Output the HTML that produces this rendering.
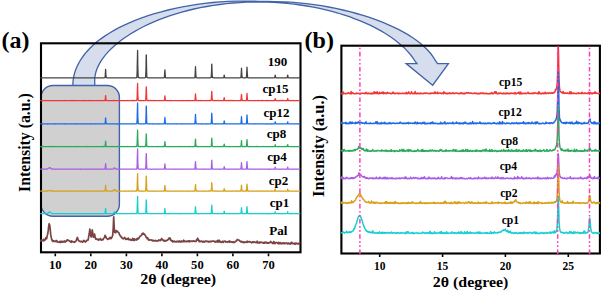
<!DOCTYPE html><html><head><meta charset="utf-8"><style>html,body{margin:0;padding:0;background:#fff;width:602px;height:293px;overflow:hidden}svg{display:block}text{font-family:"Liberation Serif",serif;font-weight:bold}</style></head><body><svg width="602" height="293" viewBox="0 0 602 293" font-family="Liberation Serif, serif" font-weight="bold" fill="#000"><defs><clipPath id="ca"><rect x="40" y="44" width="261.5" height="207.7"/></clipPath><clipPath id="cb"><rect x="340.4" y="45.2" width="260.5" height="207.3"/></clipPath></defs><path d="M73 86L72.9 82.5L73.3 79L74 75.5L74.9 72L76.2 68.5L77.7 65.1L79.5 61.7L81.6 58.3L84 55L86.7 51.7L89.7 48.5L93 45.3L96.6 42.1L100.5 39.1L104.7 36.1L109.2 33.2L114 30.4L119 27.7L124.3 25.1L129.9 22.6L135.7 20.2L141.8 17.9L148.1 15.7L154.6 13.7L161.3 11.8L168.1 10L175.2 8.4L182.4 6.9L189.7 5.6L197.2 4.4L204.8 3.4L212.5 2.5L220.2 1.8L228 1.4L235.9 1.1L243.8 1.1L251.7 1.1L259.6 1.3L267.5 1.4L275.4 1.6L283.2 1.8L291 2.2L298.7 2.8L306.3 3.6L313.9 4.6L321.3 5.7L328.6 7L335.8 8.4L342.9 10L349.8 11.6L356.5 13.5L363.1 15.4L369.5 17.4L375.7 19.6L381.7 21.9L387.5 24.3L393.1 26.8L398.4 29.4L403.5 32.1L408.3 34.9L412.8 37.8L417 40.7L420.9 43.8L424.5 47L427.8 50.2L430.7 53.5L433.1 56.8L435.2 60.2L437.5 63.6L448.4 63.6L432.7 85.2L406.1 63.6L417 63.6L414.5 60.3L412.3 57L409.7 53.7L406.9 50.6L403.8 47.4L400.4 44.4L396.8 41.4L392.9 38.5L388.9 35.7L384.6 33L380.1 30.4L375.4 27.9L370.6 25.4L365.5 23.1L360.3 20.9L354.9 18.8L349.4 16.7L343.7 14.8L337.9 13L332 11.4L325.9 9.8L319.7 8.4L313.3 7.1L306.9 6L300.4 5L293.8 4.1L287.2 3.4L280.5 2.8L273.7 2.4L266.9 2.1L260.1 2L253.3 2.1L246.5 2.2L239.8 2.6L233 3L226.3 3.7L219.7 4.5L213.2 5.4L206.7 6.5L200.3 7.7L194 9L187.9 10.5L181.8 12.1L175.9 13.8L170.2 15.6L164.6 17.6L159.1 19.7L153.8 21.9L148.7 24.1L143.8 26.5L139 29L134.4 31.6L130 34.2L125.8 37L121.8 39.8L118.1 42.7L114.5 45.7L111.2 48.8L108.1 51.9L105.3 55.1L102.8 58.4L100.6 61.7L98.7 65.1L97.1 68.5L95.9 72L95.1 75.5L94.7 79L94.7 82.5L94.8 86Z" fill="#d6deee" stroke="#4263a8" stroke-width="1.3" stroke-linejoin="miter"/><rect x="41" y="85.5" width="78.4" height="130.7" rx="12" ry="12" fill="#d0d0d0" stroke="#4263a8" stroke-width="1.4"/><rect x="41" y="43.3" width="259.5" height="209" fill="none" stroke="#000" stroke-width="2.1"/><rect x="341.4" y="45.7" width="258.5" height="207.8" fill="none" stroke="#000" stroke-width="2.1"/><g fill="none" stroke-width="1.3" stroke-linejoin="round" clip-path="url(#ca)"><path d="M40.2 77.8L40.7 77.8L41.2 77.8L41.7 77.8L42.2 77.8L42.7 77.8L43.2 77.8L43.7 77.8L44.2 77.8L44.7 77.8L45.2 77.8L45.7 77.8L46.2 77.8L46.7 77.8L47.2 77.8L47.7 77.8L48.2 77.8L48.7 77.8L49.2 77.8L49.7 77.8L50.2 77.8L50.7 77.8L51.2 77.8L51.7 77.8L52.2 77.8L52.7 77.8L53.2 77.8L53.7 77.8L54.2 77.8L54.7 77.8L55.2 77.8L55.7 77.8L56.2 77.8L56.7 77.8L57.2 77.8L57.7 77.8L58.2 77.8L58.7 77.8L59.2 77.8L59.7 77.8L60.2 77.8L60.7 77.8L61.2 77.8L61.7 77.8L62.2 77.8L62.7 77.8L63.2 77.8L63.7 77.8L64.2 77.8L64.7 77.8L65.2 77.8L65.7 77.8L66.2 77.8L66.7 77.8L67.2 77.8L67.7 77.8L68.2 77.8L68.7 77.8L69.2 77.8L69.7 77.8L70.2 77.8L70.7 77.8L71.2 77.8L71.7 77.8L72.2 77.8L72.7 77.8L73.2 77.8L73.7 77.8L74.2 77.8L74.7 77.8L75.2 77.8L75.7 77.8L76.2 77.8L76.7 77.8L77.2 77.8L77.7 77.8L78.2 77.8L78.7 77.8L79.2 77.8L79.7 77.8L80.2 77.8L80.7 77.8L81.2 77.8L81.7 77.8L82.2 77.8L82.7 77.8L83.2 77.8L83.7 77.8L84.2 77.8L84.7 77.8L85.2 77.8L85.7 77.8L86.2 77.8L86.7 77.8L87.2 77.8L87.7 77.8L88.2 77.8L88.7 77.8L89.2 77.8L89.7 77.8L90.2 77.8L90.7 77.8L91.2 77.8L91.7 77.8L92.2 77.8L92.7 77.8L93.2 77.8L93.7 77.8L94.2 77.8L94.7 77.8L95.2 77.8L95.7 77.8L96.2 77.8L96.7 77.8L97.2 77.8L97.7 77.8L98.2 77.8L98.7 77.8L99.2 77.8L99.7 77.8L100.2 77.8L100.7 77.8L101.2 77.8L101.7 77.8L102.2 77.8L102.7 77.8L103.2 77.8L103.7 77.8L104.2 77.8L104.7 77.7L105 77.5L105.2 75.9L105.3 74.7L105.6 69.4L105.7 70.7L105.9 74.6L106.2 77.5L106.2 77.6L106.7 77.7L107.2 77.8L107.7 77.8L108.2 77.8L108.7 77.8L109.2 77.8L109.7 77.8L110.2 77.8L110.7 77.8L111.2 77.8L111.7 77.8L112.2 77.8L112.7 77.8L113.2 77.8L113.7 77.8L114.2 77.8L114.7 77.8L115.2 77.8L115.7 77.8L116.2 77.8L116.7 77.8L117.2 77.8L117.7 77.8L118.2 77.8L118.7 77.8L119.2 77.8L119.7 77.8L120.2 77.8L120.7 77.8L121.2 77.8L121.7 77.8L122.2 77.8L122.7 77.8L123.2 77.8L123.7 77.8L124.2 77.8L124.7 77.8L125.2 77.8L125.7 77.8L126.2 77.8L126.7 77.8L127.2 77.8L127.7 77.8L128.2 77.8L128.7 77.8L129.2 77.8L129.7 77.8L130.2 77.8L130.7 77.8L131.2 77.8L131.7 77.8L132.2 77.8L132.7 77.8L133.2 77.8L133.7 77.8L134.2 77.8L134.7 77.8L135.2 77.8L135.7 77.8L136.2 77.7L136.7 77.6L136.9 77L137.2 70.6L137.2 67.7L137.6 50.3L137.7 56.4L137.8 67.4L138.2 76.9L138.2 77.2L138.7 77.7L139.2 77.7L139.7 77.8L140.2 77.8L140.7 77.8L141.2 77.8L141.7 77.8L142.2 77.8L142.7 77.8L143.2 77.8L143.7 77.8L144.2 77.8L144.7 77.8L145.2 77.7L145.7 77.1L145.7 76.8L146 69.1L146.2 55.7L146.3 54.9L146.6 69.4L146.7 74.9L146.9 77.1L147.2 77.7L147.7 77.7L148.2 77.8L148.7 77.8L149.2 77.8L149.7 77.8L150.2 77.8L150.7 77.8L151.2 77.8L151.7 77.8L152.2 77.8L152.7 77.8L153.2 77.8L153.7 77.8L154.2 77.8L154.7 77.8L155.2 77.8L155.7 77.8L156.2 77.8L156.7 77.8L157.2 77.8L157.7 77.8L158.2 77.8L158.7 77.8L159.2 77.8L159.7 77.8L160.2 77.8L160.7 77.8L161.2 77.8L161.7 77.8L162.2 77.8L162.7 77.8L163.2 77.8L163.7 77.8L164.2 77.7L164.3 77.6L164.6 74.8L164.7 72.9L164.9 69.8L165.2 74.6L165.2 74.8L165.5 77.6L165.7 77.7L166.2 77.8L166.7 77.8L167.2 77.8L167.7 77.8L168.2 77.8L168.7 77.8L169.2 77.8L169.7 77.8L170.2 77.8L170.7 77.8L171.2 77.8L171.7 77.8L172.2 77.8L172.7 77.8L173.2 77.8L173.7 77.8L174.2 77.8L174.7 77.8L175.2 77.8L175.7 77.8L176.2 77.8L176.7 77.8L177.2 77.8L177.7 77.8L178.2 77.8L178.7 77.8L179.2 77.8L179.7 77.8L180.2 77.8L180.7 77.8L181.2 77.8L181.7 77.8L182.2 77.8L182.7 77.8L183.2 77.8L183.7 77.8L184.2 77.8L184.7 77.8L185.2 77.8L185.7 77.8L186.2 77.8L186.7 77.8L187.2 77.8L187.7 77.8L188.2 77.8L188.7 77.8L189.2 77.8L189.7 77.8L190.2 77.8L190.7 77.8L191.2 77.8L191.7 77.8L192.2 77.8L192.7 77.8L193.2 77.8L193.7 77.8L194.2 77.8L194.7 77.7L194.9 77.4L195.2 73.5L195.2 72.7L195.5 66.7L195.7 71.8L195.8 73.7L196.1 77.5L196.2 77.7L196.7 77.8L197.2 77.8L197.7 77.8L198.2 77.8L198.7 77.8L199.2 77.8L199.7 77.8L200.2 77.8L200.7 77.8L201.2 77.8L201.7 77.8L202.2 77.8L202.7 77.8L203.2 77.8L203.7 77.8L204.2 77.8L204.7 77.8L205.2 77.8L205.7 77.8L206.2 77.8L206.7 77.8L207.2 77.8L207.7 77.8L208.2 77.8L208.7 77.8L209.2 77.8L209.7 77.8L210.2 77.7L210.7 77.7L211.2 77.4L211.2 77.4L211.5 72.7L211.7 65.9L211.8 64.1L212.1 72.7L212.2 75.1L212.4 77.4L212.7 77.7L213.2 77.7L213.7 77.7L214.2 77.8L214.7 77.8L215.2 77.8L215.7 77.8L216.2 77.8L216.7 77.8L217.2 77.8L217.7 77.8L218.2 77.8L218.7 77.8L219.2 77.8L219.7 77.8L220.2 77.8L220.7 77.8L221.2 77.8L221.7 77.8L222.2 77.8L222.7 77.8L223.2 77.8L223.7 77.7L223.7 77.6L223.9 76.7L224.2 75.1L224.2 75.1L224.6 76.8L224.7 77.5L224.8 77.7L225.2 77.8L225.7 77.8L226.2 77.8L226.7 77.8L227.2 77.8L227.7 77.8L228.2 77.8L228.7 77.8L229.2 77.8L229.7 77.8L230.2 77.8L230.7 77.8L231.2 77.8L231.7 77.8L232.2 77.8L232.7 77.8L233.2 77.8L233.7 77.8L234.2 77.8L234.7 77.8L235.2 77.8L235.7 77.8L236.2 77.8L236.7 77.8L237.2 77.8L237.7 77.8L238.2 77.8L238.7 77.8L239.2 77.8L239.7 77.8L240.2 77.7L240.7 77.7L240.9 77.5L241.2 74.2L241.2 73.7L241.5 68.2L241.7 72.3L241.8 74.3L242.1 77.5L242.2 77.7L242.7 77.7L243.2 77.8L243.7 77.8L244.2 77.8L244.7 77.8L245.2 77.8L245.7 77.8L246.2 77.7L246.4 77.5L246.7 73.9L246.7 73.4L247 67.2L247.2 71.5L247.3 73.8L247.6 77.5L247.7 77.7L248.2 77.8L248.7 77.8L249.2 77.8L249.7 77.8L250.2 77.8L250.7 77.8L251.2 77.8L251.7 77.8L252.2 77.8L252.7 77.8L253.2 77.8L253.7 77.8L254.2 77.8L254.7 77.8L255.2 77.8L255.7 77.8L256.2 77.8L256.7 77.8L257.2 77.8L257.7 77.8L258.2 77.8L258.7 77.8L259.2 77.8L259.7 77.8L260.2 77.8L260.7 77.8L261.2 77.8L261.7 77.8L262.2 77.8L262.7 77.8L263.2 77.8L263.7 77.8L264.2 77.8L264.7 77.8L265.2 77.8L265.7 77.8L266.2 77.8L266.7 77.8L267.2 77.8L267.7 77.8L268.2 77.8L268.7 77.8L269.2 77.8L269.7 77.8L270.2 77.8L270.7 77.8L271.2 77.8L271.7 77.8L272.2 77.8L272.7 77.8L273.2 77.8L273.7 77.8L274.2 77.8L274.6 77.7L274.7 77.6L274.9 76.8L275.2 75.2L275.2 75.1L275.5 76.8L275.7 77.5L275.8 77.7L276.2 77.8L276.7 77.8L277.2 77.8L277.7 77.8L278.2 77.8L278.7 77.8L279.2 77.8L279.7 77.8L280.2 77.8L280.7 77.8L281.2 77.8L281.7 77.8L282.2 77.8L282.7 77.8L283.2 77.8L283.7 77.8L284.2 77.8L284.7 77.8L285.2 77.8L285.7 77.8L286.2 77.8L286.7 77.8L287.1 77.7L287.2 77.5L287.4 76.8L287.7 75.1L287.7 75.1L288 76.8L288.2 77.7L288.3 77.7L288.7 77.8L289.2 77.8L289.7 77.8L290.2 77.8L290.7 77.8L291.2 77.8L291.7 77.8L292.2 77.8L292.7 77.8L293.2 77.8L293.7 77.8L294.2 77.8L294.7 77.8L295.2 77.8L295.7 77.8L296.2 77.8L296.7 77.8L297.2 77.8L297.7 77.8L298.2 77.8L298.7 77.8L299.2 77.8L299.7 77.8L300.2 77.8" stroke="#444444"/><path d="M40.2 100.6L40.7 100.6L41.2 100.7L41.7 100.6L42.2 100.6L42.7 100.5L43.2 100.6L43.7 100.6L44.2 100.6L44.7 100.6L45.2 100.6L45.7 100.5L46.2 100.7L46.7 100.6L47.2 100.6L47.7 100.6L48.2 100.6L48.7 100.6L49.2 100.7L49.7 100.6L50.2 100.6L50.7 100.6L51.2 100.6L51.7 100.6L52.2 100.6L52.7 100.6L53.2 100.6L53.7 100.6L54.2 100.6L54.7 100.6L55.2 100.6L55.7 100.7L56.2 100.6L56.7 100.6L57.2 100.6L57.7 100.6L58.2 100.6L58.7 100.6L59.2 100.6L59.7 100.6L60.2 100.6L60.7 100.6L61.2 100.6L61.7 100.6L62.2 100.6L62.7 100.6L63.2 100.6L63.7 100.6L64.2 100.5L64.7 100.6L65.2 100.7L65.7 100.6L66.2 100.6L66.7 100.6L67.2 100.6L67.7 100.6L68.2 100.6L68.7 100.6L69.2 100.6L69.7 100.6L70.2 100.7L70.7 100.6L71.2 100.6L71.7 100.5L72.2 100.5L72.7 100.6L73.2 100.6L73.7 100.6L74.2 100.6L74.7 100.5L75.2 100.6L75.7 100.7L76.2 100.6L76.7 100.6L77.2 100.7L77.7 100.6L78.2 100.6L78.7 100.6L79.2 100.6L79.7 100.6L80.2 100.7L80.7 100.6L81.2 100.6L81.7 100.6L82.2 100.6L82.7 100.6L83.2 100.5L83.7 100.6L84.2 100.6L84.7 100.7L85.2 100.6L85.7 100.6L86.2 100.6L86.7 100.6L87.2 100.6L87.7 100.6L88.2 100.6L88.7 100.5L89.2 100.6L89.7 100.6L90.2 100.6L90.7 100.6L91.2 100.6L91.7 100.5L92.2 100.6L92.7 100.6L93.2 100.7L93.7 100.6L94.2 100.6L94.7 100.6L95.2 100.6L95.7 100.6L96.2 100.7L96.7 100.6L97.2 100.6L97.7 100.5L98.2 100.6L98.7 100.6L99.2 100.6L99.7 100.6L100.2 100.6L100.7 100.6L101.2 100.6L101.7 100.5L102.2 100.6L102.7 100.6L103.2 100.6L103.7 100.6L104.2 100.6L104.7 100.6L105 100.4L105.2 99.5L105.3 98.9L105.6 95.6L105.7 96.5L105.9 98.6L106.2 100.4L106.2 100.5L106.7 100.6L107.2 100.6L107.7 100.6L108.2 100.6L108.7 100.6L109.2 100.6L109.7 100.6L110.2 100.7L110.7 100.6L111.2 100.6L111.7 100.6L112.2 100.7L112.7 100.6L113.2 100.5L113.7 100.5L114.2 100.6L114.7 100.6L115.2 100.6L115.7 100.6L116.2 100.7L116.7 100.7L117.2 100.6L117.7 100.6L118.2 100.7L118.7 100.6L119.2 100.5L119.7 100.6L120.2 100.6L120.7 100.6L121.2 100.6L121.7 100.6L122.2 100.5L122.7 100.6L123.2 100.6L123.7 100.7L124.2 100.6L124.7 100.7L125.2 100.6L125.7 100.6L126.2 100.6L126.7 100.6L127.2 100.6L127.7 100.5L128.2 100.6L128.7 100.6L129.2 100.6L129.7 100.6L130.2 100.6L130.7 100.6L131.2 100.5L131.7 100.6L132.2 100.6L132.7 100.6L133.2 100.5L133.7 100.5L134.2 100.5L134.7 100.6L135.2 100.6L135.7 100.6L136.2 100.6L136.7 100.4L136.9 100L137.2 96.2L137.2 94.3L137.6 83.5L137.7 87.3L137.8 94.1L138.2 100L138.2 100.2L138.7 100.6L139.2 100.6L139.7 100.6L140.2 100.6L140.7 100.5L141.2 100.6L141.7 100.6L142.2 100.6L142.7 100.6L143.2 100.6L143.7 100.6L144.2 100.6L144.7 100.6L145.2 100.6L145.7 100.1L145.7 100L146 95.4L146.2 87.4L146.3 86.9L146.6 95.6L146.7 98.9L146.9 100.2L147.2 100.5L147.7 100.6L148.2 100.5L148.7 100.5L149.2 100.6L149.7 100.6L150.2 100.5L150.7 100.5L151.2 100.6L151.7 100.6L152.2 100.7L152.7 100.6L153.2 100.7L153.7 100.6L154.2 100.5L154.7 100.5L155.2 100.6L155.7 100.6L156.2 100.6L156.7 100.6L157.2 100.6L157.7 100.6L158.2 100.6L158.7 100.6L159.2 100.6L159.7 100.6L160.2 100.6L160.7 100.6L161.2 100.6L161.7 100.6L162.2 100.6L162.7 100.6L163.2 100.6L163.7 100.5L164.2 100.5L164.3 100.4L164.6 98.9L164.7 97.7L164.9 95.9L165.2 98.7L165.2 98.9L165.5 100.5L165.7 100.5L166.2 100.6L166.7 100.6L167.2 100.7L167.7 100.5L168.2 100.6L168.7 100.6L169.2 100.6L169.7 100.6L170.2 100.5L170.7 100.6L171.2 100.6L171.7 100.6L172.2 100.7L172.7 100.6L173.2 100.7L173.7 100.6L174.2 100.6L174.7 100.6L175.2 100.6L175.7 100.6L176.2 100.7L176.7 100.6L177.2 100.6L177.7 100.6L178.2 100.6L178.7 100.6L179.2 100.6L179.7 100.6L180.2 100.6L180.7 100.6L181.2 100.6L181.7 100.6L182.2 100.5L182.7 100.6L183.2 100.6L183.7 100.6L184.2 100.6L184.7 100.6L185.2 100.6L185.7 100.6L186.2 100.5L186.7 100.6L187.2 100.6L187.7 100.6L188.2 100.6L188.7 100.5L189.2 100.6L189.7 100.6L190.2 100.6L190.7 100.6L191.2 100.6L191.7 100.7L192.2 100.6L192.7 100.6L193.2 100.6L193.7 100.6L194.2 100.6L194.7 100.6L194.9 100.4L195.2 98L195.2 97.5L195.5 93.8L195.7 96.8L195.8 98.2L196.1 100.4L196.2 100.6L196.7 100.6L197.2 100.6L197.7 100.6L198.2 100.6L198.7 100.5L199.2 100.6L199.7 100.6L200.2 100.6L200.7 100.5L201.2 100.6L201.7 100.6L202.2 100.6L202.7 100.6L203.2 100.6L203.7 100.6L204.2 100.6L204.7 100.6L205.2 100.6L205.7 100.6L206.2 100.7L206.7 100.6L207.2 100.6L207.7 100.6L208.2 100.7L208.7 100.6L209.2 100.5L209.7 100.6L210.2 100.6L210.7 100.6L211.2 100.3L211.2 100.3L211.5 97.1L211.7 92.6L211.8 91.4L212.1 97.2L212.2 98.8L212.4 100.4L212.7 100.5L213.2 100.5L213.7 100.6L214.2 100.6L214.7 100.6L215.2 100.5L215.7 100.6L216.2 100.6L216.7 100.6L217.2 100.5L217.7 100.6L218.2 100.6L218.7 100.5L219.2 100.6L219.7 100.6L220.2 100.6L220.7 100.6L221.2 100.6L221.7 100.6L222.2 100.6L222.7 100.6L223.2 100.6L223.7 100.5L223.7 100.4L223.9 99.5L224.2 97.7L224.2 97.7L224.6 99.6L224.7 100.2L224.8 100.5L225.2 100.6L225.7 100.6L226.2 100.6L226.7 100.6L227.2 100.6L227.7 100.6L228.2 100.6L228.7 100.5L229.2 100.6L229.7 100.6L230.2 100.5L230.7 100.6L231.2 100.5L231.7 100.6L232.2 100.6L232.7 100.6L233.2 100.5L233.7 100.6L234.2 100.6L234.7 100.7L235.2 100.6L235.7 100.6L236.2 100.7L236.7 100.6L237.2 100.6L237.7 100.6L238.2 100.7L238.7 100.6L239.2 100.6L239.7 100.6L240.2 100.5L240.7 100.6L240.9 100.4L241.2 98.2L241.2 97.9L241.5 94.3L241.7 96.9L241.8 98.3L242.1 100.4L242.2 100.6L242.7 100.5L243.2 100.6L243.7 100.6L244.2 100.6L244.7 100.6L245.2 100.6L245.7 100.6L246.2 100.5L246.4 100.3L246.7 98L246.7 97.7L247 93.5L247.2 96.4L247.3 97.8L247.6 100.4L247.7 100.5L248.2 100.6L248.7 100.6L249.2 100.6L249.7 100.6L250.2 100.6L250.7 100.6L251.2 100.6L251.7 100.6L252.2 100.7L252.7 100.6L253.2 100.6L253.7 100.6L254.2 100.6L254.7 100.7L255.2 100.6L255.7 100.6L256.2 100.6L256.7 100.6L257.2 100.6L257.7 100.6L258.2 100.5L258.7 100.6L259.2 100.6L259.7 100.6L260.2 100.7L260.7 100.6L261.2 100.6L261.7 100.6L262.2 100.5L262.7 100.5L263.2 100.6L263.7 100.6L264.2 100.6L264.7 100.6L265.2 100.6L265.7 100.6L266.2 100.6L266.7 100.6L267.2 100.5L267.7 100.5L268.2 100.6L268.7 100.6L269.2 100.6L269.7 100.6L270.2 100.6L270.7 100.6L271.2 100.6L271.7 100.6L272.2 100.6L272.7 100.6L273.2 100.6L273.7 100.6L274.2 100.5L274.6 100.5L274.7 100.5L274.9 99.9L275.2 98.7L275.2 98.6L275.5 99.8L275.7 100.3L275.8 100.6L276.2 100.6L276.7 100.6L277.2 100.6L277.7 100.6L278.2 100.7L278.7 100.6L279.2 100.6L279.7 100.6L280.2 100.5L280.7 100.6L281.2 100.6L281.7 100.6L282.2 100.5L282.7 100.6L283.2 100.5L283.7 100.6L284.2 100.7L284.7 100.6L285.2 100.6L285.7 100.6L286.2 100.6L286.7 100.6L287.1 100.6L287.2 100.4L287.4 99.8L287.7 98.6L287.7 98.6L288 99.9L288.2 100.5L288.3 100.6L288.7 100.5L289.2 100.6L289.7 100.6L290.2 100.6L290.7 100.6L291.2 100.6L291.7 100.6L292.2 100.6L292.7 100.6L293.2 100.5L293.7 100.6L294.2 100.6L294.7 100.6L295.2 100.6L295.7 100.6L296.2 100.6L296.7 100.6L297.2 100.6L297.7 100.6L298.2 100.6L298.7 100.6L299.2 100.6L299.7 100.7L300.2 100.6" stroke="#f23535"/><path d="M40.2 123.9L40.7 123.8L41.2 123.9L41.7 123.9L42.2 123.9L42.7 124L43.2 123.9L43.7 123.9L44.2 123.9L44.7 123.9L45.2 123.9L45.7 123.9L46.2 123.9L46.7 123.9L47.2 123.9L47.7 124L48.2 123.9L48.7 123.9L49.2 123.9L49.7 123.9L50.2 123.9L50.7 123.9L51.2 123.9L51.7 123.9L52.2 123.9L52.7 123.9L53.2 123.8L53.7 123.9L54.2 123.9L54.7 123.8L55.2 123.9L55.7 124L56.2 123.9L56.7 123.9L57.2 123.8L57.7 123.8L58.2 123.9L58.7 123.9L59.2 123.9L59.7 123.9L60.2 123.8L60.7 123.9L61.2 123.9L61.7 123.9L62.2 123.9L62.7 123.9L63.2 123.8L63.7 123.9L64.2 123.9L64.7 124L65.2 123.9L65.7 123.9L66.2 123.9L66.7 123.8L67.2 123.9L67.7 123.9L68.2 123.9L68.7 123.9L69.2 123.9L69.7 123.9L70.2 123.9L70.7 123.9L71.2 123.9L71.7 123.9L72.2 123.9L72.7 123.9L73.2 123.8L73.7 123.9L74.2 123.9L74.7 123.9L75.2 123.9L75.7 123.9L76.2 124L76.7 123.9L77.2 123.9L77.7 123.9L78.2 123.8L78.7 123.9L79.2 123.9L79.7 123.9L80.2 123.9L80.7 123.9L81.2 123.9L81.7 123.9L82.2 123.9L82.7 123.9L83.2 123.9L83.7 123.9L84.2 123.8L84.7 123.9L85.2 123.9L85.7 124L86.2 123.8L86.7 123.9L87.2 123.9L87.7 123.9L88.2 123.9L88.7 123.9L89.2 123.9L89.7 123.9L90.2 123.9L90.7 124L91.2 123.9L91.7 123.9L92.2 123.9L92.7 123.9L93.2 123.9L93.7 123.9L94.2 123.8L94.7 123.9L95.2 123.9L95.7 123.9L96.2 123.9L96.7 123.9L97.2 123.9L97.7 123.9L98.2 123.9L98.7 123.8L99.2 123.9L99.7 123.8L100.2 123.9L100.7 123.9L101.2 123.9L101.7 123.9L102.2 123.9L102.7 123.9L103.2 123.9L103.7 123.9L104.2 123.9L104.7 123.9L105 123.7L105.2 122.6L105.3 121.7L105.6 117.9L105.7 118.8L105.9 121.6L106.2 123.7L106.2 123.8L106.7 123.8L107.2 123.9L107.7 123.9L108.2 123.9L108.7 123.9L109.2 123.9L109.7 123.9L110.2 123.9L110.7 123.9L111.2 123.9L111.7 123.9L112.2 123.9L112.7 123.9L113.2 123.9L113.7 123.9L114.2 123.9L114.7 123.9L115.2 123.9L115.7 123.9L116.2 123.9L116.7 124L117.2 123.9L117.7 123.9L118.2 124L118.7 123.9L119.2 123.9L119.7 124L120.2 123.9L120.7 123.9L121.2 123.9L121.7 123.9L122.2 123.9L122.7 123.9L123.2 123.9L123.7 123.9L124.2 123.8L124.7 123.9L125.2 123.9L125.7 123.9L126.2 123.9L126.7 123.9L127.2 123.9L127.7 123.9L128.2 123.9L128.7 123.9L129.2 123.9L129.7 123.9L130.2 123.9L130.7 123.9L131.2 123.9L131.7 123.9L132.2 123.9L132.7 123.9L133.2 123.9L133.7 123.9L134.2 123.9L134.7 123.9L135.2 123.9L135.7 123.9L136.2 123.8L136.7 123.7L136.9 123.3L137.2 118.4L137.2 116.2L137.6 102.9L137.7 107.5L137.8 116L138.2 123.2L138.2 123.4L138.7 123.8L139.2 123.9L139.7 123.9L140.2 123.9L140.7 123.9L141.2 123.8L141.7 123.9L142.2 123.9L142.7 123.9L143.2 123.9L143.7 123.9L144.2 123.8L144.7 123.9L145.2 123.8L145.7 123.4L145.7 123.1L146 117.1L146.2 106.7L146.3 106.1L146.6 117.4L146.7 121.7L146.9 123.4L147.2 123.8L147.7 123.9L148.2 123.9L148.7 123.9L149.2 123.9L149.7 123.9L150.2 123.9L150.7 123.9L151.2 123.9L151.7 123.8L152.2 124L152.7 123.9L153.2 123.8L153.7 123.9L154.2 123.9L154.7 123.8L155.2 123.9L155.7 123.9L156.2 123.9L156.7 123.9L157.2 123.9L157.7 123.9L158.2 123.9L158.7 124L159.2 123.9L159.7 123.9L160.2 123.9L160.7 123.9L161.2 123.9L161.7 123.9L162.2 123.9L162.7 123.9L163.2 123.9L163.7 123.9L164.2 123.8L164.3 123.7L164.6 121.6L164.7 120L164.9 117.5L165.2 121.4L165.2 121.6L165.5 123.7L165.7 123.8L166.2 123.9L166.7 123.8L167.2 123.9L167.7 123.9L168.2 123.9L168.7 123.9L169.2 123.9L169.7 123.9L170.2 123.9L170.7 123.9L171.2 123.8L171.7 123.9L172.2 123.9L172.7 123.9L173.2 123.9L173.7 123.9L174.2 123.9L174.7 123.9L175.2 123.9L175.7 123.9L176.2 124L176.7 123.9L177.2 123.8L177.7 123.9L178.2 123.9L178.7 123.9L179.2 123.9L179.7 123.9L180.2 123.9L180.7 123.8L181.2 123.8L181.7 124L182.2 123.9L182.7 123.9L183.2 123.9L183.7 123.9L184.2 123.9L184.7 123.9L185.2 123.9L185.7 123.9L186.2 123.9L186.7 123.9L187.2 123.9L187.7 123.9L188.2 123.9L188.7 123.9L189.2 123.9L189.7 123.9L190.2 123.9L190.7 123.9L191.2 123.9L191.7 123.9L192.2 123.9L192.7 123.9L193.2 123.9L193.7 123.9L194.2 123.9L194.7 123.8L194.9 123.6L195.2 120.3L195.2 119.6L195.5 114.4L195.7 118.8L195.8 120.4L196.1 123.6L196.2 123.8L196.7 123.9L197.2 123.9L197.7 123.8L198.2 123.9L198.7 123.9L199.2 123.9L199.7 123.9L200.2 123.9L200.7 123.9L201.2 123.9L201.7 124L202.2 123.8L202.7 123.9L203.2 123.9L203.7 123.8L204.2 123.9L204.7 123.9L205.2 123.9L205.7 123.9L206.2 124L206.7 123.9L207.2 123.9L207.7 123.9L208.2 123.8L208.7 123.9L209.2 123.9L209.7 123.9L210.2 123.9L210.7 123.8L211.2 123.6L211.2 123.6L211.5 119.9L211.7 114.5L211.8 113.2L212.1 119.9L212.2 121.8L212.4 123.6L212.7 123.8L213.2 123.9L213.7 123.9L214.2 123.9L214.7 123.9L215.2 123.9L215.7 124L216.2 123.9L216.7 123.9L217.2 123.9L217.7 123.9L218.2 123.9L218.7 123.9L219.2 123.9L219.7 123.9L220.2 123.8L220.7 123.9L221.2 123.9L221.7 123.9L222.2 123.8L222.7 123.9L223.2 123.8L223.7 123.8L223.7 123.8L223.9 122.8L224.2 121L224.2 120.9L224.6 122.9L224.7 123.6L224.8 123.8L225.2 123.9L225.7 123.9L226.2 123.9L226.7 123.9L227.2 123.9L227.7 123.9L228.2 123.9L228.7 123.9L229.2 123.9L229.7 123.9L230.2 123.8L230.7 123.9L231.2 123.9L231.7 123.9L232.2 123.9L232.7 123.9L233.2 123.9L233.7 123.9L234.2 123.9L234.7 123.9L235.2 123.9L235.7 123.9L236.2 123.9L236.7 123.9L237.2 123.9L237.7 123.8L238.2 123.9L238.7 123.8L239.2 123.8L239.7 123.9L240.2 123.9L240.7 123.9L240.9 123.7L241.2 121.1L241.2 120.8L241.5 116.6L241.7 119.8L241.8 121.3L242.1 123.7L242.2 123.8L242.7 123.8L243.2 123.9L243.7 123.9L244.2 123.8L244.7 123.8L245.2 123.8L245.7 123.9L246.2 123.8L246.4 123.7L246.7 120.6L246.7 120.2L247 114.9L247.2 118.5L247.3 120.5L247.6 123.6L247.7 123.8L248.2 123.8L248.7 123.8L249.2 123.9L249.7 123.9L250.2 123.9L250.7 123.9L251.2 123.8L251.7 123.9L252.2 123.9L252.7 123.9L253.2 123.9L253.7 123.9L254.2 124L254.7 123.9L255.2 123.8L255.7 123.8L256.2 123.9L256.7 123.9L257.2 123.8L257.7 123.9L258.2 123.9L258.7 123.9L259.2 123.9L259.7 123.9L260.2 123.8L260.7 123.9L261.2 123.9L261.7 123.9L262.2 123.9L262.7 123.9L263.2 123.9L263.7 123.9L264.2 123.9L264.7 123.9L265.2 123.9L265.7 123.9L266.2 123.9L266.7 124L267.2 123.9L267.7 123.9L268.2 123.9L268.7 123.8L269.2 124L269.7 123.9L270.2 123.9L270.7 123.9L271.2 123.9L271.7 124L272.2 123.9L272.7 123.9L273.2 123.9L273.7 123.9L274.2 123.9L274.6 123.8L274.7 123.8L274.9 123.2L275.2 122L275.2 121.9L275.5 123.1L275.7 123.6L275.8 123.8L276.2 123.9L276.7 123.9L277.2 123.9L277.7 123.9L278.2 123.8L278.7 123.9L279.2 123.9L279.7 123.9L280.2 123.9L280.7 123.9L281.2 123.9L281.7 123.9L282.2 123.9L282.7 123.9L283.2 123.9L283.7 123.8L284.2 123.9L284.7 123.9L285.2 123.9L285.7 123.9L286.2 123.9L286.7 123.9L287.1 123.8L287.2 123.7L287.4 123.1L287.7 121.9L287.7 121.9L288 123.2L288.2 123.8L288.3 123.8L288.7 123.8L289.2 123.9L289.7 123.9L290.2 123.9L290.7 123.9L291.2 123.9L291.7 123.9L292.2 123.9L292.7 123.9L293.2 123.9L293.7 123.9L294.2 123.9L294.7 123.9L295.2 123.9L295.7 123.9L296.2 123.9L296.7 123.9L297.2 123.9L297.7 123.9L298.2 123.8L298.7 124L299.2 123.9L299.7 123.9L300.2 123.9" stroke="#1e6be5"/><path d="M40.2 146.6L40.7 146.6L41.2 146.6L41.7 146.6L42.2 146.6L42.7 146.5L43.2 146.5L43.7 146.7L44.2 146.6L44.7 146.6L45.2 146.6L45.7 146.6L46.2 146.6L46.7 146.6L47.2 146.7L47.7 146.6L48.2 146.6L48.7 146.7L49.2 146.6L49.7 146.5L50.2 146.6L50.7 146.6L51.2 146.5L51.7 146.5L52.2 146.6L52.7 146.6L53.2 146.6L53.7 146.7L54.2 146.6L54.7 146.5L55.2 146.6L55.7 146.6L56.2 146.6L56.7 146.7L57.2 146.6L57.7 146.6L58.2 146.6L58.7 146.7L59.2 146.6L59.7 146.6L60.2 146.6L60.7 146.6L61.2 146.7L61.7 146.7L62.2 146.6L62.7 146.5L63.2 146.6L63.7 146.6L64.2 146.6L64.7 146.6L65.2 146.6L65.7 146.5L66.2 146.6L66.7 146.6L67.2 146.6L67.7 146.7L68.2 146.5L68.7 146.6L69.2 146.6L69.7 146.7L70.2 146.6L70.7 146.6L71.2 146.6L71.7 146.6L72.2 146.6L72.7 146.6L73.2 146.6L73.7 146.6L74.2 146.6L74.7 146.6L75.2 146.6L75.7 146.6L76.2 146.6L76.7 146.5L77.2 146.6L77.7 146.6L78.2 146.5L78.7 146.7L79.2 146.6L79.7 146.7L80.2 146.6L80.7 146.6L81.2 146.6L81.7 146.6L82.2 146.6L82.7 146.7L83.2 146.6L83.7 146.6L84.2 146.6L84.7 146.6L85.2 146.6L85.7 146.6L86.2 146.6L86.7 146.6L87.2 146.6L87.7 146.5L88.2 146.6L88.7 146.6L89.2 146.6L89.7 146.6L90.2 146.6L90.7 146.6L91.2 146.6L91.7 146.6L92.2 146.6L92.7 146.6L93.2 146.6L93.7 146.6L94.2 146.6L94.7 146.6L95.2 146.6L95.7 146.7L96.2 146.5L96.7 146.6L97.2 146.6L97.7 146.6L98.2 146.6L98.7 146.6L99.2 146.6L99.7 146.6L100.2 146.6L100.7 146.7L101.2 146.7L101.7 146.6L102.2 146.5L102.7 146.6L103.2 146.6L103.7 146.5L104.2 146.6L104.7 146.5L105 146.5L105.2 145.3L105.3 144.7L105.6 141.1L105.7 142L105.9 144.4L106.2 146.5L106.2 146.5L106.7 146.5L107.2 146.6L107.7 146.6L108.2 146.6L108.7 146.6L109.2 146.6L109.7 146.6L110.2 146.6L110.7 146.6L111.2 146.6L111.7 146.5L112.2 146.5L112.7 146.6L113.2 146.6L113.7 146.6L114.2 146.6L114.7 146.6L115.2 146.6L115.7 146.6L116.2 146.6L116.7 146.6L117.2 146.5L117.7 146.6L118.2 146.6L118.7 146.6L119.2 146.5L119.7 146.6L120.2 146.6L120.7 146.6L121.2 146.6L121.7 146.6L122.2 146.5L122.7 146.6L123.2 146.6L123.7 146.6L124.2 146.6L124.7 146.6L125.2 146.6L125.7 146.6L126.2 146.6L126.7 146.6L127.2 146.6L127.7 146.5L128.2 146.6L128.7 146.6L129.2 146.6L129.7 146.6L130.2 146.6L130.7 146.6L131.2 146.6L131.7 146.6L132.2 146.6L132.7 146.6L133.2 146.6L133.7 146.5L134.2 146.6L134.7 146.6L135.2 146.6L135.7 146.6L136.2 146.5L136.7 146.5L136.9 146L137.2 142.4L137.2 140.5L137.6 130.2L137.7 133.8L137.8 140.4L138.2 146.1L138.2 146.2L138.7 146.5L139.2 146.6L139.7 146.5L140.2 146.5L140.7 146.6L141.2 146.6L141.7 146.6L142.2 146.6L142.7 146.5L143.2 146.6L143.7 146.6L144.2 146.5L144.7 146.5L145.2 146.5L145.7 146.2L145.7 146L146 141.8L146.2 134.4L146.3 134L146.6 142L146.7 145.1L146.9 146.2L147.2 146.5L147.7 146.6L148.2 146.5L148.7 146.6L149.2 146.6L149.7 146.6L150.2 146.6L150.7 146.6L151.2 146.6L151.7 146.6L152.2 146.6L152.7 146.6L153.2 146.6L153.7 146.6L154.2 146.6L154.7 146.6L155.2 146.7L155.7 146.6L156.2 146.6L156.7 146.6L157.2 146.6L157.7 146.5L158.2 146.6L158.7 146.7L159.2 146.7L159.7 146.6L160.2 146.6L160.7 146.6L161.2 146.6L161.7 146.6L162.2 146.5L162.7 146.6L163.2 146.6L163.7 146.5L164.2 146.5L164.3 146.5L164.6 144.8L164.7 143.6L164.9 141.6L165.2 144.7L165.2 144.8L165.5 146.5L165.7 146.5L166.2 146.6L166.7 146.6L167.2 146.6L167.7 146.6L168.2 146.6L168.7 146.6L169.2 146.6L169.7 146.6L170.2 146.6L170.7 146.6L171.2 146.7L171.7 146.6L172.2 146.6L172.7 146.6L173.2 146.6L173.7 146.6L174.2 146.7L174.7 146.6L175.2 146.6L175.7 146.6L176.2 146.6L176.7 146.6L177.2 146.6L177.7 146.6L178.2 146.6L178.7 146.6L179.2 146.6L179.7 146.6L180.2 146.5L180.7 146.6L181.2 146.6L181.7 146.6L182.2 146.6L182.7 146.6L183.2 146.6L183.7 146.6L184.2 146.6L184.7 146.6L185.2 146.6L185.7 146.6L186.2 146.6L186.7 146.6L187.2 146.6L187.7 146.6L188.2 146.6L188.7 146.6L189.2 146.5L189.7 146.6L190.2 146.6L190.7 146.6L191.2 146.6L191.7 146.6L192.2 146.6L192.7 146.7L193.2 146.6L193.7 146.6L194.2 146.5L194.7 146.5L194.9 146.4L195.2 143.7L195.2 143.1L195.5 139.1L195.7 142.5L195.8 143.9L196.1 146.3L196.2 146.5L196.7 146.6L197.2 146.6L197.7 146.5L198.2 146.6L198.7 146.6L199.2 146.6L199.7 146.6L200.2 146.6L200.7 146.6L201.2 146.6L201.7 146.6L202.2 146.6L202.7 146.6L203.2 146.6L203.7 146.6L204.2 146.6L204.7 146.6L205.2 146.6L205.7 146.6L206.2 146.5L206.7 146.6L207.2 146.6L207.7 146.6L208.2 146.7L208.7 146.6L209.2 146.6L209.7 146.6L210.2 146.6L210.7 146.6L211.2 146.3L211.2 146.3L211.5 143.4L211.7 139.2L211.8 138.1L212.1 143.4L212.2 144.9L212.4 146.3L212.7 146.5L213.2 146.6L213.7 146.6L214.2 146.6L214.7 146.6L215.2 146.6L215.7 146.6L216.2 146.6L216.7 146.6L217.2 146.6L217.7 146.5L218.2 146.6L218.7 146.6L219.2 146.6L219.7 146.6L220.2 146.7L220.7 146.6L221.2 146.6L221.7 146.6L222.2 146.5L222.7 146.5L223.2 146.6L223.7 146.5L223.7 146.5L223.9 145.7L224.2 144.2L224.2 144.2L224.6 145.7L224.7 146.3L224.8 146.5L225.2 146.6L225.7 146.6L226.2 146.6L226.7 146.6L227.2 146.7L227.7 146.6L228.2 146.6L228.7 146.6L229.2 146.6L229.7 146.6L230.2 146.6L230.7 146.6L231.2 146.6L231.7 146.7L232.2 146.6L232.7 146.6L233.2 146.6L233.7 146.7L234.2 146.6L234.7 146.6L235.2 146.6L235.7 146.6L236.2 146.6L236.7 146.7L237.2 146.6L237.7 146.6L238.2 146.5L238.7 146.6L239.2 146.6L239.7 146.6L240.2 146.6L240.7 146.6L240.9 146.4L241.2 144.3L241.2 144L241.5 140.6L241.7 143.2L241.8 144.4L242.1 146.4L242.2 146.5L242.7 146.6L243.2 146.6L243.7 146.6L244.2 146.6L244.7 146.5L245.2 146.6L245.7 146.6L246.2 146.5L246.4 146.4L246.7 144L246.7 143.7L247 139.6L247.2 142.4L247.3 143.9L247.6 146.3L247.7 146.5L248.2 146.6L248.7 146.6L249.2 146.6L249.7 146.6L250.2 146.7L250.7 146.6L251.2 146.6L251.7 146.6L252.2 146.6L252.7 146.6L253.2 146.6L253.7 146.6L254.2 146.6L254.7 146.6L255.2 146.6L255.7 146.6L256.2 146.6L256.7 146.5L257.2 146.5L257.7 146.6L258.2 146.6L258.7 146.6L259.2 146.6L259.7 146.6L260.2 146.6L260.7 146.6L261.2 146.6L261.7 146.6L262.2 146.6L262.7 146.6L263.2 146.6L263.7 146.5L264.2 146.6L264.7 146.6L265.2 146.7L265.7 146.6L266.2 146.6L266.7 146.6L267.2 146.5L267.7 146.7L268.2 146.6L268.7 146.6L269.2 146.6L269.7 146.6L270.2 146.6L270.7 146.6L271.2 146.7L271.7 146.6L272.2 146.7L272.7 146.6L273.2 146.6L273.7 146.6L274.2 146.6L274.6 146.5L274.7 146.5L274.9 145.9L275.2 144.7L275.2 144.6L275.5 145.8L275.7 146.4L275.8 146.5L276.2 146.6L276.7 146.6L277.2 146.6L277.7 146.6L278.2 146.6L278.7 146.6L279.2 146.6L279.7 146.5L280.2 146.6L280.7 146.6L281.2 146.6L281.7 146.6L282.2 146.6L282.7 146.6L283.2 146.6L283.7 146.5L284.2 146.6L284.7 146.6L285.2 146.6L285.7 146.6L286.2 146.5L286.7 146.6L287.1 146.6L287.2 146.3L287.4 145.8L287.7 144.6L287.7 144.7L288 145.8L288.2 146.5L288.3 146.6L288.7 146.6L289.2 146.6L289.7 146.6L290.2 146.7L290.7 146.6L291.2 146.6L291.7 146.6L292.2 146.6L292.7 146.6L293.2 146.6L293.7 146.6L294.2 146.6L294.7 146.6L295.2 146.6L295.7 146.6L296.2 146.6L296.7 146.6L297.2 146.6L297.7 146.6L298.2 146.6L298.7 146.6L299.2 146.6L299.7 146.6L300.2 146.6" stroke="#2aaa5c"/><path d="M40.2 169.2L40.7 169.2L41.2 169.2L41.7 169.1L42.2 169.1L42.7 169.2L43.2 169.2L43.7 169.2L44.2 169.1L44.7 169.2L45.2 169.1L45.7 169.1L46.2 169.1L46.7 169L47.2 169L47.7 168.8L48.2 168.5L48.7 168.2L49.2 167.7L49.7 167.6L50.2 167.9L50.7 168.3L51.2 168.7L51.7 169L52.2 169L52.7 169.1L53.2 169.1L53.7 169.2L54.2 169.2L54.7 169.1L55.2 169.2L55.7 169.2L56.2 169.2L56.7 169.2L57.2 169.2L57.7 169.2L58.2 169.2L58.7 169.2L59.2 169.1L59.7 169.2L60.2 169.2L60.7 169.2L61.2 169.1L61.7 169.1L62.2 169.2L62.7 169.2L63.2 169.2L63.7 169.2L64.2 169.1L64.7 169.2L65.2 169.2L65.7 169.2L66.2 169.2L66.7 169.2L67.2 169.2L67.7 169.2L68.2 169.2L68.7 169.2L69.2 169.2L69.7 169.1L70.2 169.2L70.7 169.2L71.2 169.2L71.7 169.1L72.2 169.2L72.7 169.2L73.2 169.1L73.7 169.2L74.2 169.2L74.7 169.2L75.2 169.2L75.7 169.2L76.2 169.2L76.7 169.1L77.2 169.2L77.7 169.2L78.2 169.2L78.7 169.2L79.2 169.2L79.7 169.1L80.2 169.3L80.7 169.2L81.2 169.3L81.7 169.2L82.2 169.2L82.7 169.2L83.2 169.2L83.7 169.2L84.2 169.1L84.7 169.2L85.2 169.2L85.7 169.2L86.2 169.3L86.7 169.2L87.2 169.2L87.7 169.1L88.2 169.2L88.7 169.2L89.2 169.2L89.7 169.2L90.2 169.3L90.7 169.2L91.2 169.2L91.7 169.2L92.2 169.1L92.7 169.2L93.2 169.2L93.7 169.2L94.2 169.2L94.7 169.2L95.2 169.2L95.7 169.2L96.2 169.2L96.7 169.2L97.2 169.2L97.7 169.2L98.2 169.3L98.7 169.2L99.2 169.2L99.7 169.2L100.2 169.2L100.7 169.2L101.2 169.2L101.7 169.2L102.2 169.2L102.7 169.2L103.2 169.2L103.7 169.2L104.2 169.2L104.7 169.2L105 169.1L105.2 168L105.3 167.2L105.6 163.7L105.7 164.6L105.9 167L106.2 169L106.2 169L106.7 169.1L107.2 169.2L107.7 169.2L108.2 169.1L108.7 169.2L109.2 169.2L109.7 169.2L110.2 169.1L110.7 169.1L111.2 169.1L111.7 169.2L112.2 169.2L112.7 169.1L113.2 169.1L113.7 168.7L114.2 167.9L114.7 167.8L115.2 168.6L115.7 169L116.2 169.1L116.7 169.2L117.2 169.1L117.7 169.2L118.2 169.2L118.7 169.2L119.2 169.2L119.7 169.2L120.2 169.2L120.7 169.2L121.2 169.2L121.7 169.1L122.2 169.2L122.7 169.2L123.2 169.2L123.7 169.2L124.2 169.2L124.7 169.2L125.2 169.2L125.7 169.2L126.2 169.2L126.7 169.2L127.2 169.2L127.7 169.2L128.2 169.2L128.7 169.2L129.2 169.2L129.7 169.2L130.2 169.2L130.7 169.2L131.2 169.2L131.7 169.2L132.2 169.1L132.7 169.2L133.2 169.2L133.7 169.2L134.2 169.2L134.7 169.2L135.2 169.2L135.7 169.2L136.2 169.1L136.7 169L136.9 168.5L137.2 163.9L137.2 161.7L137.6 148.9L137.7 153.3L137.8 161.5L138.2 168.6L138.2 168.7L138.7 169.1L139.2 169.1L139.7 169.1L140.2 169.2L140.7 169.1L141.2 169.2L141.7 169.2L142.2 169.2L142.7 169.2L143.2 169.2L143.7 169.2L144.2 169.2L144.7 169.1L145.2 169.1L145.7 168.7L145.7 168.5L146 163.3L146.2 154.2L146.3 153.6L146.6 163.5L146.7 167.2L146.9 168.7L147.2 169.1L147.7 169.1L148.2 169.1L148.7 169.2L149.2 169.2L149.7 169.2L150.2 169.2L150.7 169.2L151.2 169.3L151.7 169.3L152.2 169.2L152.7 169.2L153.2 169.1L153.7 169.2L154.2 169.2L154.7 169.2L155.2 169.2L155.7 169.3L156.2 169.2L156.7 169.2L157.2 169.2L157.7 169.2L158.2 169.2L158.7 169.1L159.2 169.2L159.7 169.2L160.2 169.2L160.7 169.1L161.2 169.2L161.7 169.2L162.2 169.2L162.7 169.2L163.2 169.2L163.7 169.2L164.2 169.1L164.3 169L164.6 167.2L164.7 166L164.9 163.9L165.2 167L165.2 167.3L165.5 169L165.7 169.1L166.2 169.2L166.7 169.2L167.2 169.2L167.7 169.2L168.2 169.2L168.7 169.2L169.2 169.2L169.7 169.2L170.2 169.2L170.7 169.1L171.2 169.2L171.7 169.1L172.2 169.2L172.7 169.2L173.2 169.2L173.7 169.2L174.2 169.2L174.7 169.2L175.2 169.3L175.7 169.2L176.2 169.2L176.7 169.2L177.2 169.2L177.7 169.2L178.2 169.3L178.7 169.2L179.2 169.2L179.7 169.2L180.2 169.2L180.7 169.1L181.2 169.2L181.7 169.2L182.2 169.1L182.7 169.2L183.2 169.2L183.7 169.2L184.2 169.2L184.7 169.2L185.2 169.2L185.7 169.2L186.2 169.2L186.7 169.2L187.2 169.2L187.7 169.2L188.2 169.2L188.7 169.2L189.2 169.2L189.7 169.2L190.2 169.2L190.7 169.2L191.2 169.2L191.7 169.2L192.2 169.2L192.7 169.2L193.2 169.2L193.7 169.1L194.2 169.2L194.7 169.1L194.9 169L195.2 166.3L195.2 165.6L195.5 161.6L195.7 165L195.8 166.4L196.1 168.9L196.2 169.1L196.7 169.2L197.2 169.2L197.7 169.1L198.2 169.1L198.7 169.1L199.2 169.2L199.7 169.2L200.2 169.2L200.7 169.2L201.2 169.2L201.7 169.2L202.2 169.2L202.7 169.2L203.2 169.2L203.7 169.2L204.2 169.2L204.7 169.3L205.2 169.1L205.7 169.2L206.2 169.2L206.7 169.2L207.2 169.2L207.7 169.2L208.2 169.1L208.7 169.2L209.2 169.2L209.7 169.2L210.2 169.2L210.7 169.2L211.2 168.9L211.2 169L211.5 165.8L211.7 161.4L211.8 160.2L212.1 165.8L212.2 167.4L212.4 168.9L212.7 169.2L213.2 169.2L213.7 169.1L214.2 169.2L214.7 169.2L215.2 169.2L215.7 169.2L216.2 169.2L216.7 169.2L217.2 169.1L217.7 169.2L218.2 169.2L218.7 169.1L219.2 169.2L219.7 169.3L220.2 169.1L220.7 169.2L221.2 169.2L221.7 169.2L222.2 169.2L222.7 169.2L223.2 169.2L223.7 169.1L223.7 169.1L223.9 168.3L224.2 166.8L224.2 166.6L224.6 168.3L224.7 168.9L224.8 169.2L225.2 169.2L225.7 169.2L226.2 169.2L226.7 169.2L227.2 169.2L227.7 169.2L228.2 169.2L228.7 169.3L229.2 169.2L229.7 169.2L230.2 169.2L230.7 169.2L231.2 169.2L231.7 169.2L232.2 169.2L232.7 169.2L233.2 169.2L233.7 169.1L234.2 169.2L234.7 169.2L235.2 169.3L235.7 169.2L236.2 169.2L236.7 169.2L237.2 169.2L237.7 169.2L238.2 169.2L238.7 169.1L239.2 169.2L239.7 169.2L240.2 169.2L240.7 169.1L240.9 169L241.2 166.7L241.2 166.4L241.5 162.7L241.7 165.4L241.8 166.8L242.1 169L242.2 169.2L242.7 169.2L243.2 169.2L243.7 169.2L244.2 169.1L244.7 169.1L245.2 169.2L245.7 169.2L246.2 169.1L246.4 169L246.7 166.5L246.7 166.2L247 161.6L247.2 164.7L247.3 166.4L247.6 168.9L247.7 169.1L248.2 169.1L248.7 169.1L249.2 169.2L249.7 169.2L250.2 169.2L250.7 169.2L251.2 169.2L251.7 169.2L252.2 169.2L252.7 169.2L253.2 169.2L253.7 169.2L254.2 169.3L254.7 169.2L255.2 169.1L255.7 169.2L256.2 169.2L256.7 169.2L257.2 169.2L257.7 169.2L258.2 169.2L258.7 169.2L259.2 169.2L259.7 169.3L260.2 169.2L260.7 169.2L261.2 169.2L261.7 169.2L262.2 169.2L262.7 169.2L263.2 169.2L263.7 169.1L264.2 169.2L264.7 169.1L265.2 169.2L265.7 169.2L266.2 169.2L266.7 169.2L267.2 169.2L267.7 169.2L268.2 169.1L268.7 169.3L269.2 169.2L269.7 169.3L270.2 169.1L270.7 169.2L271.2 169.2L271.7 169.2L272.2 169.1L272.7 169.2L273.2 169.2L273.7 169.2L274.2 169.1L274.6 169.2L274.7 169.1L274.9 168.5L275.2 167.2L275.2 167.2L275.5 168.5L275.7 169L275.8 169.1L276.2 169.2L276.7 169.2L277.2 169.2L277.7 169.2L278.2 169.2L278.7 169.2L279.2 169.2L279.7 169.3L280.2 169.2L280.7 169.2L281.2 169.2L281.7 169.3L282.2 169.2L282.7 169.1L283.2 169.2L283.7 169.2L284.2 169.2L284.7 169.2L285.2 169.3L285.7 169.2L286.2 169.2L286.7 169.1L287.1 169.1L287.2 168.9L287.4 168.4L287.7 167.2L287.7 167.2L288 168.4L288.2 169.1L288.3 169.1L288.7 169.1L289.2 169.2L289.7 169.2L290.2 169.2L290.7 169.2L291.2 169.1L291.7 169.2L292.2 169.2L292.7 169.3L293.2 169.2L293.7 169.2L294.2 169.2L294.7 169.2L295.2 169.2L295.7 169.2L296.2 169.2L296.7 169.2L297.2 169.2L297.7 169.1L298.2 169.2L298.7 169.2L299.2 169.2L299.7 169.1L300.2 169.2" stroke="#a95ce6"/><path d="M40.2 191.1L40.7 191.1L41.2 191.1L41.7 191.1L42.2 191.1L42.7 191.1L43.2 191.1L43.7 191.1L44.2 191.1L44.7 191.1L45.2 191.1L45.7 191.1L46.2 191L46.7 191.1L47.2 191L47.7 191L48.2 190.8L48.7 190.8L49.2 190.6L49.7 190.5L50.2 190.6L50.7 190.8L51.2 190.9L51.7 191L52.2 191L52.7 191.1L53.2 191L53.7 191.1L54.2 191.1L54.7 191.1L55.2 191.1L55.7 191.1L56.2 191.1L56.7 191.1L57.2 191.1L57.7 191.1L58.2 191.1L58.7 191.1L59.2 191.1L59.7 191.2L60.2 191.1L60.7 191L61.2 191.1L61.7 191.2L62.2 191L62.7 191.1L63.2 191.1L63.7 191.1L64.2 191L64.7 191.1L65.2 191.1L65.7 191L66.2 191.1L66.7 191.1L67.2 191.1L67.7 191.1L68.2 191.2L68.7 191L69.2 191.1L69.7 191.1L70.2 191.1L70.7 191L71.2 191.1L71.7 191.1L72.2 191.1L72.7 191.1L73.2 191L73.7 191.2L74.2 191.1L74.7 191.1L75.2 191.1L75.7 191.1L76.2 191.1L76.7 191.1L77.2 191.1L77.7 191.1L78.2 191.1L78.7 191.1L79.2 191.1L79.7 191.1L80.2 191.1L80.7 191.1L81.2 191.1L81.7 191.1L82.2 191.1L82.7 191.2L83.2 191.1L83.7 191.1L84.2 191.1L84.7 191.1L85.2 191.1L85.7 191L86.2 191L86.7 191.1L87.2 191.1L87.7 191.1L88.2 191.1L88.7 191L89.2 191.1L89.7 191.1L90.2 191.1L90.7 191.1L91.2 191.1L91.7 191.2L92.2 191.1L92.7 191.1L93.2 191.1L93.7 191.1L94.2 191.1L94.7 191.2L95.2 191.1L95.7 191.1L96.2 191.1L96.7 191.1L97.2 191.2L97.7 191L98.2 191.1L98.7 191.1L99.2 191.1L99.7 191.1L100.2 191.1L100.7 191.1L101.2 191.1L101.7 191L102.2 191.1L102.7 191.1L103.2 191.1L103.7 191L104.2 191.1L104.7 191L105 190.9L105.2 189.8L105.3 188.9L105.6 185.2L105.7 186L105.9 188.8L106.2 190.9L106.2 190.9L106.7 191.1L107.2 191.1L107.7 191.1L108.2 191.1L108.7 191.1L109.2 191.1L109.7 191.1L110.2 191.1L110.7 191.1L111.2 191.1L111.7 191.1L112.2 191L112.7 191L113.2 190.9L113.7 190.4L114.2 189.4L114.7 189.3L115.2 190.4L115.7 190.9L116.2 191L116.7 191L117.2 191.1L117.7 191L118.2 191L118.7 191.1L119.2 191.1L119.7 191.1L120.2 191.1L120.7 191.1L121.2 191.1L121.7 191.1L122.2 191.1L122.7 191.1L123.2 191.1L123.7 191.1L124.2 191.1L124.7 191.1L125.2 191L125.7 191.1L126.2 191.1L126.7 191.1L127.2 191.1L127.7 191.1L128.2 191.1L128.7 191L129.2 191.1L129.7 191.1L130.2 191.1L130.7 191.1L131.2 191L131.7 191.1L132.2 191.2L132.7 191.1L133.2 191.1L133.7 191.1L134.2 191.1L134.7 191.1L135.2 191L135.7 191.1L136.2 191L136.7 191L136.9 190.5L137.2 186.5L137.2 184.7L137.6 173.7L137.7 177.5L137.8 184.5L138.2 190.6L138.2 190.7L138.7 191L139.2 191.1L139.7 191L140.2 191.1L140.7 191.1L141.2 191.1L141.7 191L142.2 191.1L142.7 191.1L143.2 191.1L143.7 191.1L144.2 191.1L144.7 191.1L145.2 191L145.7 190.6L145.7 190.4L146 185.4L146.2 176.7L146.3 176.1L146.6 185.6L146.7 189.2L146.9 190.7L147.2 191L147.7 191L148.2 191.1L148.7 191.1L149.2 191.1L149.7 191.1L150.2 191.1L150.7 191.1L151.2 191.1L151.7 191.1L152.2 191L152.7 191.1L153.2 191.1L153.7 191.1L154.2 191.1L154.7 191.1L155.2 191.1L155.7 191L156.2 191.1L156.7 191.1L157.2 191.1L157.7 191.1L158.2 191.1L158.7 191.1L159.2 191.1L159.7 191.1L160.2 191.1L160.7 191.1L161.2 191.1L161.7 191.1L162.2 191.1L162.7 191.1L163.2 191L163.7 191.1L164.2 191L164.3 191L164.6 189L164.7 187.6L164.9 185.5L165.2 188.8L165.2 189L165.5 190.9L165.7 191L166.2 191.1L166.7 191.1L167.2 191L167.7 191.1L168.2 191.1L168.7 191.1L169.2 191L169.7 191.1L170.2 191.1L170.7 191.1L171.2 191.2L171.7 191.1L172.2 191.1L172.7 191.1L173.2 191.1L173.7 191.1L174.2 191L174.7 191.2L175.2 191.1L175.7 191.1L176.2 191.1L176.7 191.1L177.2 191.1L177.7 191.1L178.2 191.1L178.7 191.1L179.2 191L179.7 191.1L180.2 191.1L180.7 191.1L181.2 191.1L181.7 191.1L182.2 191.1L182.7 191L183.2 191.1L183.7 191.1L184.2 191.1L184.7 191.1L185.2 191.1L185.7 191.1L186.2 191.1L186.7 191.1L187.2 191.1L187.7 191.1L188.2 191L188.7 191.1L189.2 191.1L189.7 191.1L190.2 191.1L190.7 191.1L191.2 191.1L191.7 191.1L192.2 191.1L192.7 191.1L193.2 191.1L193.7 191.1L194.2 191.1L194.7 191.1L194.9 190.9L195.2 188.6L195.2 188L195.5 184.5L195.7 187.5L195.8 188.6L196.1 190.9L196.2 191L196.7 191.1L197.2 191L197.7 191.1L198.2 191.1L198.7 191.1L199.2 191.1L199.7 191.1L200.2 191.1L200.7 191.1L201.2 191.1L201.7 191.1L202.2 191.1L202.7 191.1L203.2 191.1L203.7 191.1L204.2 191L204.7 191.1L205.2 191.2L205.7 191.1L206.2 191.1L206.7 191.1L207.2 191.1L207.7 191.1L208.2 191.1L208.7 191L209.2 191.1L209.7 191L210.2 191.1L210.7 191L211.2 190.8L211.2 190.8L211.5 187.9L211.7 183.7L211.8 182.6L212.1 188L212.2 189.4L212.4 190.9L212.7 191L213.2 191.1L213.7 191.1L214.2 191.1L214.7 191L215.2 191.1L215.7 191.1L216.2 191.1L216.7 191.1L217.2 191L217.7 191.1L218.2 191.1L218.7 191.1L219.2 191.1L219.7 191.1L220.2 191.1L220.7 191.1L221.2 191.1L221.7 191.2L222.2 191.1L222.7 191.1L223.2 191.1L223.7 191L223.7 191L223.9 190.1L224.2 188.7L224.2 188.6L224.6 190.2L224.7 190.9L224.8 191L225.2 191.1L225.7 191L226.2 191.1L226.7 191.1L227.2 191.1L227.7 191.1L228.2 191.1L228.7 191.1L229.2 191L229.7 191.1L230.2 191.2L230.7 191.1L231.2 191.2L231.7 191.1L232.2 191L232.7 191.1L233.2 191.1L233.7 191.1L234.2 191.1L234.7 191.1L235.2 191.1L235.7 191.1L236.2 191L236.7 191.1L237.2 191L237.7 191.1L238.2 191.1L238.7 191.1L239.2 191.1L239.7 191L240.2 191.1L240.7 191L240.9 190.9L241.2 188.8L241.2 188.5L241.5 185.1L241.7 187.6L241.8 188.9L242.1 190.9L242.2 191L242.7 191.1L243.2 191.1L243.7 191.1L244.2 191.1L244.7 191.1L245.2 191L245.7 191L246.2 191.1L246.4 190.8L246.7 188.6L246.7 188.2L247 184.1L247.2 186.9L247.3 188.4L247.6 190.9L247.7 191L248.2 191.1L248.7 191L249.2 191.1L249.7 191.1L250.2 191.1L250.7 191.1L251.2 191.1L251.7 191.1L252.2 191.1L252.7 191L253.2 191.2L253.7 191.1L254.2 191.1L254.7 191.1L255.2 191.1L255.7 191.1L256.2 191.1L256.7 191.1L257.2 191.1L257.7 191L258.2 191.1L258.7 191.1L259.2 191.1L259.7 191.1L260.2 191L260.7 191.1L261.2 191.1L261.7 191.1L262.2 191.1L262.7 191.1L263.2 191L263.7 191.1L264.2 191.1L264.7 191.2L265.2 191L265.7 191.1L266.2 191.1L266.7 191.1L267.2 191.1L267.7 191.1L268.2 191.1L268.7 191.1L269.2 191L269.7 191.2L270.2 191.1L270.7 191.1L271.2 191L271.7 191.1L272.2 191.1L272.7 191.1L273.2 191.1L273.7 191.1L274.2 191L274.6 191L274.7 191L274.9 190.3L275.2 189.2L275.2 189.2L275.5 190.4L275.7 190.9L275.8 191L276.2 191.1L276.7 191.1L277.2 191.1L277.7 191.1L278.2 191.1L278.7 191.1L279.2 191.1L279.7 191.1L280.2 191.1L280.7 191.1L281.2 191.1L281.7 191.1L282.2 191.2L282.7 191.1L283.2 191.1L283.7 191.1L284.2 191.1L284.7 191.2L285.2 191.1L285.7 191.1L286.2 191.1L286.7 191.1L287.1 191L287.2 190.9L287.4 190.4L287.7 189.1L287.7 189.2L288 190.3L288.2 191L288.3 191L288.7 191.1L289.2 191L289.7 191.2L290.2 191.1L290.7 191.1L291.2 191.1L291.7 191.1L292.2 191.1L292.7 191.1L293.2 191.1L293.7 191.1L294.2 191.1L294.7 191.1L295.2 191.1L295.7 191.1L296.2 191.1L296.7 191.1L297.2 191.1L297.7 191.2L298.2 191.1L298.7 191.1L299.2 191.1L299.7 191.1L300.2 191.1" stroke="#d9a01a"/><path d="M40.2 213.7L40.7 213.7L41.2 213.7L41.7 213.7L42.2 213.6L42.7 213.7L43.2 213.6L43.7 213.6L44.2 213.7L44.7 213.6L45.2 213.7L45.7 213.6L46.2 213.6L46.7 213.5L47.2 213.5L47.7 213.4L48.2 213L48.7 212.5L49.2 212L49.7 211.9L50.2 212.2L50.7 212.7L51.2 213.1L51.7 213.4L52.2 213.5L52.7 213.6L53.2 213.6L53.7 213.7L54.2 213.6L54.7 213.6L55.2 213.7L55.7 213.7L56.2 213.6L56.7 213.7L57.2 213.7L57.7 213.7L58.2 213.7L58.7 213.7L59.2 213.7L59.7 213.7L60.2 213.7L60.7 213.7L61.2 213.7L61.7 213.7L62.2 213.7L62.7 213.6L63.2 213.7L63.7 213.7L64.2 213.7L64.7 213.7L65.2 213.7L65.7 213.7L66.2 213.6L66.7 213.7L67.2 213.7L67.7 213.7L68.2 213.7L68.7 213.7L69.2 213.7L69.7 213.7L70.2 213.6L70.7 213.7L71.2 213.7L71.7 213.8L72.2 213.7L72.7 213.7L73.2 213.7L73.7 213.7L74.2 213.7L74.7 213.7L75.2 213.7L75.7 213.7L76.2 213.7L76.7 213.8L77.2 213.6L77.7 213.7L78.2 213.7L78.7 213.7L79.2 213.7L79.7 213.7L80.2 213.7L80.7 213.7L81.2 213.7L81.7 213.6L82.2 213.7L82.7 213.7L83.2 213.8L83.7 213.7L84.2 213.7L84.7 213.7L85.2 213.7L85.7 213.6L86.2 213.7L86.7 213.7L87.2 213.7L87.7 213.7L88.2 213.7L88.7 213.7L89.2 213.7L89.7 213.7L90.2 213.8L90.7 213.7L91.2 213.7L91.7 213.7L92.2 213.7L92.7 213.8L93.2 213.7L93.7 213.7L94.2 213.7L94.7 213.7L95.2 213.7L95.7 213.7L96.2 213.7L96.7 213.7L97.2 213.7L97.7 213.7L98.2 213.7L98.7 213.7L99.2 213.7L99.7 213.7L100.2 213.7L100.7 213.6L101.2 213.7L101.7 213.7L102.2 213.8L102.7 213.7L103.2 213.7L103.7 213.7L104.2 213.7L104.7 213.6L105 213.5L105.2 212.5L105.3 211.7L105.6 208.3L105.7 209.2L105.9 211.6L106.2 213.6L106.2 213.5L106.7 213.6L107.2 213.7L107.7 213.7L108.2 213.7L108.7 213.7L109.2 213.7L109.7 213.7L110.2 213.6L110.7 213.7L111.2 213.7L111.7 213.7L112.2 213.7L112.7 213.6L113.2 213.5L113.7 213L114.2 212L114.7 211.9L115.2 212.9L115.7 213.5L116.2 213.6L116.7 213.7L117.2 213.6L117.7 213.7L118.2 213.7L118.7 213.7L119.2 213.7L119.7 213.7L120.2 213.7L120.7 213.6L121.2 213.7L121.7 213.7L122.2 213.7L122.7 213.7L123.2 213.7L123.7 213.6L124.2 213.7L124.7 213.7L125.2 213.8L125.7 213.7L126.2 213.7L126.7 213.7L127.2 213.7L127.7 213.7L128.2 213.7L128.7 213.7L129.2 213.7L129.7 213.7L130.2 213.7L130.7 213.7L131.2 213.7L131.7 213.7L132.2 213.7L132.7 213.7L133.2 213.7L133.7 213.6L134.2 213.7L134.7 213.6L135.2 213.7L135.7 213.7L136.2 213.7L136.7 213.6L136.9 213.2L137.2 209.2L137.2 207.3L137.6 196.4L137.7 200.2L137.8 207.2L138.2 213.2L138.2 213.3L138.7 213.6L139.2 213.7L139.7 213.7L140.2 213.7L140.7 213.7L141.2 213.7L141.7 213.7L142.2 213.7L142.7 213.7L143.2 213.6L143.7 213.7L144.2 213.7L144.7 213.7L145.2 213.6L145.7 213.2L145.7 213.1L146 208.5L146.2 200.5L146.3 200L146.6 208.7L146.7 211.9L146.9 213.3L147.2 213.7L147.7 213.7L148.2 213.7L148.7 213.7L149.2 213.6L149.7 213.7L150.2 213.7L150.7 213.6L151.2 213.7L151.7 213.7L152.2 213.7L152.7 213.6L153.2 213.7L153.7 213.7L154.2 213.7L154.7 213.6L155.2 213.7L155.7 213.7L156.2 213.7L156.7 213.7L157.2 213.7L157.7 213.7L158.2 213.7L158.7 213.7L159.2 213.7L159.7 213.7L160.2 213.7L160.7 213.7L161.2 213.7L161.7 213.6L162.2 213.7L162.7 213.6L163.2 213.7L163.7 213.7L164.2 213.6L164.3 213.6L164.6 211.8L164.7 210.5L164.9 208.5L165.2 211.6L165.2 211.8L165.5 213.5L165.7 213.7L166.2 213.7L166.7 213.7L167.2 213.7L167.7 213.7L168.2 213.8L168.7 213.6L169.2 213.7L169.7 213.7L170.2 213.7L170.7 213.7L171.2 213.7L171.7 213.7L172.2 213.7L172.7 213.7L173.2 213.7L173.7 213.7L174.2 213.7L174.7 213.7L175.2 213.7L175.7 213.7L176.2 213.7L176.7 213.7L177.2 213.7L177.7 213.7L178.2 213.7L178.7 213.7L179.2 213.8L179.7 213.7L180.2 213.8L180.7 213.7L181.2 213.7L181.7 213.7L182.2 213.6L182.7 213.7L183.2 213.6L183.7 213.7L184.2 213.7L184.7 213.7L185.2 213.7L185.7 213.7L186.2 213.7L186.7 213.7L187.2 213.8L187.7 213.7L188.2 213.6L188.7 213.7L189.2 213.7L189.7 213.7L190.2 213.7L190.7 213.7L191.2 213.6L191.7 213.6L192.2 213.7L192.7 213.7L193.2 213.7L193.7 213.7L194.2 213.7L194.7 213.7L194.9 213.5L195.2 211L195.2 210.4L195.5 206.6L195.7 209.8L195.8 211.1L196.1 213.4L196.2 213.6L196.7 213.6L197.2 213.7L197.7 213.7L198.2 213.7L198.7 213.8L199.2 213.7L199.7 213.7L200.2 213.7L200.7 213.7L201.2 213.7L201.7 213.7L202.2 213.6L202.7 213.7L203.2 213.7L203.7 213.7L204.2 213.6L204.7 213.7L205.2 213.7L205.7 213.7L206.2 213.6L206.7 213.7L207.2 213.7L207.7 213.6L208.2 213.7L208.7 213.7L209.2 213.7L209.7 213.7L210.2 213.7L210.7 213.6L211.2 213.4L211.2 213.5L211.5 210.5L211.7 206.2L211.8 205.2L212.1 210.5L212.2 212L212.4 213.4L212.7 213.6L213.2 213.7L213.7 213.7L214.2 213.7L214.7 213.6L215.2 213.7L215.7 213.6L216.2 213.7L216.7 213.7L217.2 213.7L217.7 213.7L218.2 213.7L218.7 213.7L219.2 213.7L219.7 213.7L220.2 213.7L220.7 213.7L221.2 213.7L221.7 213.6L222.2 213.7L222.7 213.8L223.2 213.7L223.7 213.6L223.7 213.6L223.9 212.8L224.2 211.3L224.2 211.2L224.6 212.7L224.7 213.4L224.8 213.7L225.2 213.7L225.7 213.6L226.2 213.6L226.7 213.7L227.2 213.7L227.7 213.7L228.2 213.7L228.7 213.8L229.2 213.7L229.7 213.7L230.2 213.7L230.7 213.7L231.2 213.6L231.7 213.7L232.2 213.7L232.7 213.8L233.2 213.7L233.7 213.7L234.2 213.7L234.7 213.7L235.2 213.7L235.7 213.7L236.2 213.7L236.7 213.7L237.2 213.7L237.7 213.6L238.2 213.7L238.7 213.7L239.2 213.7L239.7 213.7L240.2 213.7L240.7 213.6L240.9 213.5L241.2 211.4L241.2 211.1L241.5 207.7L241.7 210.2L241.8 211.5L242.1 213.5L242.2 213.6L242.7 213.6L243.2 213.7L243.7 213.7L244.2 213.7L244.7 213.6L245.2 213.7L245.7 213.6L246.2 213.6L246.4 213.4L246.7 211.2L246.7 210.8L247 206.7L247.2 209.5L247.3 211L247.6 213.5L247.7 213.6L248.2 213.6L248.7 213.7L249.2 213.7L249.7 213.7L250.2 213.7L250.7 213.7L251.2 213.8L251.7 213.7L252.2 213.6L252.7 213.6L253.2 213.7L253.7 213.7L254.2 213.7L254.7 213.7L255.2 213.7L255.7 213.7L256.2 213.7L256.7 213.7L257.2 213.7L257.7 213.7L258.2 213.7L258.7 213.7L259.2 213.7L259.7 213.7L260.2 213.6L260.7 213.7L261.2 213.7L261.7 213.7L262.2 213.7L262.7 213.7L263.2 213.8L263.7 213.7L264.2 213.7L264.7 213.7L265.2 213.7L265.7 213.7L266.2 213.7L266.7 213.7L267.2 213.7L267.7 213.8L268.2 213.7L268.7 213.8L269.2 213.7L269.7 213.7L270.2 213.8L270.7 213.7L271.2 213.7L271.7 213.7L272.2 213.7L272.7 213.6L273.2 213.7L273.7 213.7L274.2 213.7L274.6 213.6L274.7 213.6L274.9 213L275.2 211.8L275.2 211.7L275.5 213L275.7 213.5L275.8 213.7L276.2 213.7L276.7 213.7L277.2 213.7L277.7 213.7L278.2 213.8L278.7 213.7L279.2 213.7L279.7 213.7L280.2 213.7L280.7 213.8L281.2 213.7L281.7 213.7L282.2 213.7L282.7 213.8L283.2 213.6L283.7 213.7L284.2 213.7L284.7 213.7L285.2 213.6L285.7 213.7L286.2 213.7L286.7 213.7L287.1 213.6L287.2 213.5L287.4 213L287.7 211.7L287.7 211.8L288 213L288.2 213.6L288.3 213.6L288.7 213.6L289.2 213.7L289.7 213.7L290.2 213.7L290.7 213.8L291.2 213.7L291.7 213.7L292.2 213.7L292.7 213.7L293.2 213.7L293.7 213.7L294.2 213.6L294.7 213.6L295.2 213.6L295.7 213.7L296.2 213.7L296.7 213.7L297.2 213.7L297.7 213.8L298.2 213.7L298.7 213.7L299.2 213.7L299.7 213.7L300.2 213.7" stroke="#17cfd0"/><path d="M40.2 240.6L40.7 241.1L41.2 240L41.7 240.6L42.2 240.2L42.7 240.3L43.2 240.8L43.7 239.4L44.2 240.6L44.7 240.1L45.2 239.9L45.7 237.8L46.2 238.9L46.7 238.6L47.2 235.6L47.7 234.2L48.2 230.7L48.7 226.1L49.2 223.7L49.3 224L49.7 225.1L50.2 229.4L50.7 234.4L51.2 237.2L51.7 239.4L52.2 240.8L52.7 240.5L53.2 241.6L53.7 240.8L54.2 241L54.7 241.2L55.2 241.6L55.7 241.3L56.2 240.4L56.7 241.6L57.2 241.1L57.7 242L58.2 242.2L58.7 242.2L59.2 242.3L59.7 241.5L60.2 242.3L60.7 241.3L61.2 242.3L61.7 241.3L62.2 241.6L62.7 242.1L63.2 241.4L63.7 241.8L64.2 241.3L64.7 241L65.2 242.1L65.7 241.4L66.2 241.5L66.7 240.2L67.2 240.4L67.7 239.8L68.2 240.3L68.7 240.3L69.2 241.1L69.7 241.1L70.2 241.3L70.7 242.1L71.2 242.3L71.7 240.9L72.2 241.5L72.7 241.8L73.2 241.8L73.7 241.9L74.2 242.2L74.7 242.3L75.2 241.4L75.7 241.3L76.2 240.7L76.7 239L77.2 237.8L77.4 237.4L77.7 238.1L78.2 240L78.7 240.6L79.2 241.1L79.7 241.2L80.2 241.7L80.7 241.5L81.2 241.3L81.7 241.6L82.2 242.2L82.7 242.1L83.2 241.4L83.7 240.4L84.2 240.5L84.7 241.4L85.2 242L85.7 241.3L86.2 241.4L86.7 240.8L87.2 240.1L87.7 240.1L88.2 239.9L88.7 236.4L89.2 234L89.7 230L89.8 229.2L90.2 231.7L90.7 235.4L91.2 237L91.7 234.2L92.2 229.8L92.3 230.5L92.7 232.5L93.2 236.9L93.7 237.2L94.2 236.1L94.6 234L94.7 234.8L95.2 237.3L95.7 239.1L96.2 239L96.7 239.3L97.2 239.1L97.7 239.6L98.2 239.2L98.7 240.2L99.2 239.5L99.7 239.5L100.2 238.6L100.7 239.2L101.2 240.1L101.7 239.9L102.2 239.6L102.7 239.9L103.2 239.4L103.7 238.2L104.2 237.8L104.7 237.2L105 235.3L105.2 236.9L105.7 236.2L106.2 237.8L106.7 238.5L107.2 239L107.7 239.5L108.2 238.6L108.7 239L109.2 238.8L109.7 237.9L110.2 237.3L110.7 238.6L111.2 238.5L111.7 237.5L112.2 236.8L112.7 235.2L113.2 228.5L113.7 216.8L114.2 227.1L114.7 232.3L115.2 232.6L115.7 232.7L116.2 230.6L116.7 231.7L117 231.2L117.2 231.1L117.7 231.6L118.2 232.4L118.7 232.5L119.2 233.7L119.7 235L120.2 235.8L120.7 236L121.2 237.2L121.7 237.1L122.2 238.2L122.7 238.5L123.2 238.8L123.7 238.4L124.2 238.2L124.7 237.4L125.2 238.4L125.7 239.4L126.2 238.7L126.7 239.1L127.2 239L127.7 239.3L128.2 238.1L128.7 239.4L129.2 239.7L129.7 239.3L130.2 239.9L130.7 239.5L131.2 240.3L131.7 240L132.2 239.8L132.7 238.5L133.2 240.5L133.7 240L134.2 238.8L134.7 240.4L135.2 239.6L135.7 239.5L136.2 239.3L136.7 240L137.2 238.4L137.7 239.2L138.2 238.4L138.7 238.6L139.2 237.6L139.7 236.8L140.2 236L140.7 236L141.2 235.5L141.7 234.9L142.2 233.6L142.7 233.8L143 233.1L143.2 234.1L143.7 234.2L144.2 233.9L144.7 234.8L145.2 235.2L145.7 236.1L146.2 237.3L146.7 237.3L147.2 238.7L147.7 237.9L148.2 239.3L148.7 240.1L149.2 240.2L149.7 239.7L150.2 239.9L150.7 240L151.2 239.9L151.7 240.2L152.2 240.8L152.7 240.1L153.2 240.8L153.7 240.7L154.2 240.8L154.7 240.7L155.2 240.9L155.7 240.5L156.2 240.9L156.7 240.9L157.2 241L157.7 241.1L158.2 240.7L158.7 240L159.2 240.5L159.7 240.2L160.2 240.6L160.7 239.7L161.2 239.6L161.7 238.5L162 238.8L162.2 240L162.7 239.8L163.2 240.5L163.7 240.1L164.2 241L164.7 241.2L165.2 240.5L165.7 240.9L166.2 240.8L166.7 240.6L167.2 240.2L167.7 240.1L168.2 239.1L168.7 239.2L169.2 237.9L169.3 237.8L169.7 238.5L170.2 238.2L170.7 240.2L171.2 240.2L171.7 241.1L172.2 240.7L172.7 241.8L173.2 241.1L173.7 241.8L174.2 241.1L174.7 241.7L175.2 241.5L175.7 241.6L176.2 242L176.7 241.5L177.2 241.1L177.7 241.5L178.2 241.9L178.7 241.9L179.2 240.9L179.7 241.9L180.2 242L180.7 242L181.2 241L181.7 241.8L182.2 241.6L182.7 241.2L183.2 241.5L183.7 240.2L184.2 241.7L184.7 241.1L185.2 241.5L185.7 241.6L186.2 241.1L186.7 241.7L187.2 241.7L187.7 241.2L188.2 240.8L188.7 240.8L189.2 241.8L189.7 241L190.2 241.6L190.7 241.2L191.2 241.1L191.7 241L192.2 241.5L192.7 241L193.2 240.9L193.7 241.2L194.2 241L194.7 241.3L195.2 241.3L195.7 241.3L196.2 241.4L196.7 239.5L197.2 240.1L197.7 238.2L198.2 239.4L198.7 240.7L199.2 241.7L199.7 240.7L200.2 241.6L200.7 241.5L201.2 241.3L201.7 241.2L202.2 241.6L202.7 242L203.2 241.3L203.7 241.8L204.2 241.7L204.7 242L205.2 241.3L205.7 241L206.2 241.1L206.7 241.5L207.2 241.3L207.7 241.3L208.2 242L208.7 241.5L209.2 241.4L209.7 241.9L210.2 241.4L210.7 241.4L211.2 241.6L211.7 241.4L212.2 241.2L212.7 241L213.2 241.1L213.7 241.2L214.2 241.1L214.7 241.9L215.2 242.1L215.7 241.7L216.2 241.2L216.7 241.6L217.2 242L217.7 240.4L218.2 242L218.7 241.7L219.2 240.2L219.7 241.9L220.2 241.3L220.7 241.9L221.2 242.3L221.7 242.3L222.2 241.6L222.7 241.4L223.2 242.4L223.7 241.4L224.2 241.4L224.7 241.2L225.2 241.2L225.7 242.1L226.2 241.7L226.7 241.9L227.2 241.7L227.7 242.3L228.2 241.9L228.7 241.5L229.2 241L229.7 242.2L230.2 241.3L230.7 241.8L231.2 242L231.7 241.8L232.2 242.4L232.7 242L233.2 241.7L233.7 242.4L234.2 242.2L234.7 242.4L235.2 241.6L235.7 241.4L236.2 241L236.7 240.8L237.2 239.5L237.7 239.9L238 239.8L238.2 240L238.7 240L239.2 240.3L239.7 240.9L240.2 241.2L240.7 241.8L241.2 241.7L241.7 241.3L242.2 242.3L242.7 242.2L243.2 241.9L243.7 242.6L244.2 242L244.7 242.5L245.2 242L245.7 242L246.2 242.1L246.7 242.4L247.2 241.2L247.7 242.2L248.2 241.7L248.7 242L249.2 241.7L249.7 241.7L250.2 241.8L250.7 242.2L251.2 242.5L251.7 242.8L252.2 241.8L252.7 241.8L253.2 242.3L253.7 241.9L254.2 242.3L254.7 242L255.2 242L255.7 242.5L256.2 242.7L256.7 242.4L257.2 241.2L257.7 242.8L258.2 242.7L258.7 242.4L259.2 243L259.7 242.1L260.2 242.6L260.7 242.1L261.2 242.5L261.7 242.3L262.2 242.7L262.7 242.7L263.2 243.1L263.7 243.2L264.2 242.2L264.7 243.2L265.2 242.7L265.7 242.1L266.2 242.3L266.7 242.9L267.2 243.3L267.7 242.6L268.2 242.9L268.7 243.2L269.2 242.6L269.7 242.6L270.2 242.5L270.7 241.4L271.2 242.5L271.7 242.4L272.2 243.1L272.7 243.4L273.2 243.2L273.7 241.6L274.2 243.5L274.7 242.3L275.2 243.5L275.7 242.8L276.2 242.7L276.7 242.6L277.2 242.8L277.7 243.1L278.2 243.7L278.7 242.3L279.2 243.7L279.7 243.4L280.2 242.7L280.7 243.4L281.2 243.8L281.7 243.4L282.2 242.8L282.7 243.3L283.2 243.7L283.7 242.8L284.2 242.9L284.7 243.7L285.2 243.3L285.7 243.4L286.2 242.9L286.7 243.3L287.2 243.7L287.7 243.8L288.2 242.9L288.7 243.3L289.2 243.8L289.7 243.7L290.2 243.4L290.7 244L291.2 242.6L291.7 242.4L292.2 243.5L292.7 243.6L293.2 243.3L293.7 243.4L294.2 244.1L294.7 243.5L295.2 243.1L295.7 244.1L296.2 243.3L296.7 243.2L297.2 243.5L297.7 244L298.2 243.8L298.7 244L299.2 242.8L299.7 243.2L300.2 243.7" stroke="#7b4343" stroke-width="1.7"/></g><g fill="none" stroke-width="1.5" stroke-linejoin="round" clip-path="url(#cb)"><path d="M340.8 93L341.2 93.8L341.7 93.2L342.1 93.2L342.6 93.6L343.1 91.9L343.5 93.8L343.9 93L344.4 93.4L344.9 93.6L345.3 93.7L345.8 93.8L346.2 93.4L346.6 93.4L347.1 93.6L347.6 93.5L348 93L348.4 92.7L348.9 93L349.4 93.6L349.8 93.6L350.2 93.6L350.7 93.8L351.1 91.6L351.6 93.7L352.1 93.1L352.5 92.6L352.9 92.9L353.4 93.3L353.9 93.8L354.3 93.8L354.8 93.7L355.2 93.8L355.6 93.8L356.1 93.1L356.6 93.4L357 93.3L357.4 93.5L357.9 93.2L358.4 93.4L358.8 93.5L359.2 93.4L359.7 93.6L360.1 93.7L360.6 93.2L361.1 93.4L361.5 93.2L361.9 93.6L362.4 93.4L362.9 93.1L363.3 93.3L363.8 93.3L364.2 93.6L364.6 93.2L365.1 93.5L365.6 93.5L366 92.2L366.4 93L366.9 93.4L367.4 93.8L367.8 93.2L368.2 93L368.7 93.6L369.1 93.3L369.6 93.4L370.1 93.8L370.5 93.7L370.9 93.3L371.4 93.8L371.9 93.1L372.3 93.8L372.8 93.2L373.2 93.8L373.6 93.1L374.1 91.8L374.6 93.3L375 93.5L375.4 93L375.9 92.3L376.4 93.6L376.8 93.6L377.2 91.8L377.7 93.5L378.1 93.1L378.6 93.8L379.1 93.5L379.5 92.3L379.9 93.5L380.4 93.4L380.9 93.1L381.3 93.3L381.8 92.2L382.2 93.2L382.6 93.2L383.1 91.9L383.6 93.7L384 93.6L384.4 92.9L384.9 93.2L385.4 93.6L385.8 93.4L386.2 92.8L386.7 93.6L387.1 92.8L387.6 92.4L388.1 93L388.5 93.3L388.9 93.2L389.4 93.4L389.9 93.1L390.3 93.4L390.8 93.7L391.2 93.7L391.6 93.3L392.1 93.5L392.6 93L393 92L393.4 93.4L393.9 93.2L394.4 93.3L394.8 93.8L395.2 93.3L395.7 93.5L396.1 93.4L396.6 93.2L397.1 93.4L397.5 93.3L397.9 93L398.4 93.8L398.9 93.6L399.3 93.4L399.8 93.1L400.2 93.6L400.6 93.5L401.1 93.5L401.6 93.4L402 93.4L402.4 93.4L402.9 93.1L403.4 93.6L403.8 93.5L404.2 93.5L404.7 93.3L405.1 93.5L405.6 93.3L406.1 93.8L406.5 92.3L406.9 93L407.4 93.8L407.9 93.2L408.3 93.1L408.8 91.9L409.2 93.3L409.6 93.6L410.1 93.7L410.6 93.8L411 93L411.4 91.8L411.9 93.1L412.4 93.2L412.8 93.8L413.2 93.7L413.7 93.3L414.1 93.2L414.6 93.7L415.1 91.6L415.5 93.4L415.9 93.7L416.4 93.6L416.9 93.7L417.3 93.1L417.8 93.2L418.2 93.7L418.6 93.6L419.1 93.2L419.6 93.8L420 93.4L420.4 93L420.9 93.6L421.4 93.3L421.8 93.3L422.2 93.5L422.7 93.4L423.1 93.8L423.6 93.4L424.1 93.1L424.5 93.3L424.9 93L425.4 93.5L425.9 93.3L426.3 93.1L426.8 93L427.2 93.2L427.6 93.4L428.1 93.5L428.6 93.6L429 93.7L429.4 93.6L429.9 93.3L430.4 93.8L430.8 93L431.2 93.4L431.7 93.1L432.1 93.3L432.6 93.1L433.1 93.1L433.5 93.4L433.9 93.4L434.4 93L434.9 91.8L435.3 93.5L435.8 93.1L436.2 93.2L436.6 93.2L437.1 93.5L437.6 92.1L438 93.6L438.4 93.4L438.9 93L439.4 92.9L439.8 93L440.2 93L440.7 93.2L441.1 93.4L441.6 93.7L442.1 93.1L442.5 93L442.9 93L443.4 93.7L443.9 91.8L444.3 93.3L444.8 93.3L445.2 93L445.6 93.4L446.1 93.3L446.6 93.7L447 93.1L447.4 93.8L447.9 93.5L448.4 93.4L448.8 93.2L449.2 92.8L449.7 93.7L450.1 93L450.6 93.5L451.1 93.4L451.5 93.2L451.9 93.6L452.4 93.5L452.9 92.5L453.3 93.2L453.8 93.3L454.2 93.6L454.6 93.7L455.1 93.4L455.6 93.1L456 93L456.4 93L456.9 93.3L457.4 93.3L457.8 93.3L458.2 93.4L458.7 93.8L459.1 93.3L459.6 93.8L460.1 93.5L460.5 93.3L460.9 92.6L461.4 93.4L461.9 93.1L462.3 93.6L462.8 93.1L463.2 93.3L463.6 93.8L464.1 93.5L464.6 93L465 93.8L465.4 93.5L465.9 93L466.4 93L466.8 92.6L467.2 93.1L467.7 93L468.1 92.5L468.6 93.1L469.1 93.1L469.5 93.3L469.9 93.2L470.4 93L470.9 93L471.3 93.3L471.8 93.1L472.2 93.6L472.6 93.6L473.1 93.4L473.6 93.3L474 93.5L474.4 93.2L474.9 93L475.4 93.4L475.8 93.1L476.2 93.4L476.7 93.3L477.1 93.8L477.6 93.8L478.1 93.8L478.5 93.2L478.9 93.5L479.4 93.8L479.9 93.7L480.3 93L480.8 93.1L481.2 93.5L481.6 93.4L482.1 93L482.6 93L483 93.5L483.4 93L483.9 93.8L484.4 93.3L484.8 93.6L485.2 93.5L485.7 93.5L486.1 93.1L486.6 93.8L487.1 93.8L487.5 93.7L487.9 93.6L488.4 93.8L488.9 93.7L489.3 93.7L489.8 93.2L490.2 93.7L490.6 93.7L491.1 93.1L491.6 93.5L492 92.5L492.4 93.6L492.9 93.7L493.4 93.7L493.8 93.2L494.2 93L494.7 91.8L495.1 91.7L495.6 93.2L496.1 91.7L496.5 93.5L496.9 93.2L497.4 93.8L497.9 93.8L498.3 93.1L498.8 93L499.2 93.7L499.6 93.4L500.1 93.1L500.6 93.2L501 93.1L501.4 93.5L501.9 93.5L502.4 93.8L502.8 93.5L503.2 93.8L503.7 93L504.1 93.6L504.6 93.5L505.1 93.8L505.5 93.3L505.9 93.6L506.4 93L506.9 93.7L507.3 93.6L507.8 93.1L508.2 93.4L508.6 93.8L509.1 93.3L509.6 93.5L510 93.8L510.4 93L510.9 93L511.4 93.3L511.8 93.3L512.2 93.6L512.7 93.2L513.1 93.4L513.6 93.5L514 93.2L514.5 93.8L515 92.6L515.4 93L515.9 93.7L516.3 93.8L516.8 93.5L517.2 93L517.6 93.2L518.1 93L518.5 93.3L519 92L519.5 93.7L519.9 93L520.4 93.7L520.8 92.1L521.2 93.5L521.7 93.8L522.1 93.7L522.6 93.5L523 93.2L523.5 93.5L524 93.4L524.4 93.4L524.9 93.4L525.3 93L525.8 93.4L526.2 93.8L526.6 93.4L527.1 93.4L527.5 92.9L528 92.3L528.5 93L528.9 93.7L529.4 93.3L529.8 93.6L530.2 93.5L530.7 93.5L531.1 93.6L531.6 93.2L532 93.3L532.5 93.7L533 93.4L533.4 92.9L533.9 93.4L534.3 93.1L534.8 93.3L535.2 92.8L535.6 93.1L536.1 93.2L536.5 93.4L537 93.6L537.5 93.1L537.9 93.7L538.4 93.8L538.8 91.7L539.2 92.3L539.7 93.6L540.1 93.7L540.6 93.2L541 93.7L541.5 93.5L542 93.7L542.4 93.1L542.9 93.4L543.3 93.7L543.8 93.1L544.2 93.5L544.6 93.6L545.1 92.3L545.5 93.6L546 93.6L546.5 93L546.9 93.6L547.4 92.9L547.8 92.9L548.2 92.9L548.7 93.4L549.1 93.2L549.6 92.8L550 93L550.5 93.4L551 93.2L551.4 92.8L551.9 92.9L552.3 93.2L552.8 92.8L553.2 93.1L553.6 92.6L554.1 92.8L554.5 92L555 91.8L555.5 89.4L555.9 89.9L556.4 88.4L556.4 88.3L556.7 87.5L556.8 86.7L557 85.5L557.2 82.9L557.3 81.3L557.6 72.5L557.7 70.6L557.7 69.2L558 55.3L558.1 47.8L558.3 46.8L558.6 56.1L558.6 57.9L558.9 72.5L559 79.5L559.5 88.1L560 90.4L560.4 91.8L560.9 91.7L561.3 92.1L561.8 92.5L562.2 93.1L562.6 93L563.1 91.5L563.5 93.1L564 93.5L564.5 93L564.9 92.9L565.4 93.3L565.8 93.1L566.2 93.1L566.7 93.2L567.1 93.3L567.6 92.9L568 93.1L568.5 93.6L569 93.6L569.4 93.3L569.9 91.6L570.3 93.5L570.8 93.7L571.2 92L571.6 93.5L572.1 92.9L572.5 92.9L573 93.5L573.5 93.3L573.9 93.1L574.4 93.6L574.8 93.6L575.2 93.6L575.7 93.5L576.1 93.4L576.6 93.8L577 93.4L577.5 93L578 93.1L578.4 92.9L578.9 93.7L579.3 93.6L579.8 93.1L580.2 93.2L580.6 93.2L581.1 93.4L581.5 93.8L582 92.3L582.5 93L582.9 93.3L583.4 93.2L583.8 93.6L584.2 93.6L584.7 93L585.1 93.1L585.6 92.9L586 93.5L586.5 93.5L587 93.6L587.4 93.1L587.9 93.5L588.3 93.1L588.8 92.3L589.2 93.6L589.6 93.1L590.1 93L590.5 92.2L591 93.4L591.5 93.7L591.9 93.2L592.4 93.6L592.8 93.2L593.2 92.9L593.7 93.2L594.1 93.3L594.6 93L595 91.7L595.5 93.2L596 93L596.4 93L596.9 93.2L597.3 93.3L597.8 93.4L598.2 93.6L598.6 93.8L599.1 93.4L599.5 93.2L600 93.7" stroke="#f23535"/><path d="M340.8 123L341.2 122.4L341.7 123.2L342.1 123.7L342.6 123.4L343.1 123.1L343.5 123.3L343.9 123.1L344.4 123L344.9 123L345.3 123.4L345.8 122.4L346.2 123.7L346.6 123.1L347.1 123.4L347.6 123.2L348 123.8L348.4 123.8L348.9 123.1L349.4 122.3L349.8 123.6L350.2 121.9L350.7 123L351.1 123.6L351.6 123.5L352.1 122L352.5 123.2L352.9 123.3L353.4 123.1L353.9 122.9L354.3 122.9L354.8 123.4L355.2 123.6L355.6 122.2L356.1 123.3L356.6 122.6L357 122.9L357.4 123.1L357.9 122.3L358.4 121.8L358.8 123.1L359 122.4L359.2 123L359.3 122.7L359.6 122.5L359.7 122.2L359.9 122.2L360.1 122.3L360.2 122.9L360.6 122.3L361.1 122.7L361.5 122.5L361.9 123.2L362.4 123.3L362.9 122.8L363.3 123.1L363.8 123.2L364.2 123.2L364.6 123.7L365.1 122.8L365.6 123.1L366 121.7L366.4 123.3L366.9 123.5L367.4 123.6L367.8 123.6L368.2 123.4L368.7 123.6L369.1 123.2L369.6 123.6L370.1 123L370.5 123L370.9 123.6L371.4 123.6L371.9 123.4L372.3 123.5L372.8 123.5L373.2 123.6L373.6 123.1L374.1 123.3L374.6 123.4L375 123.3L375.4 123.3L375.9 121.7L376.4 123.3L376.8 123.5L377.2 121.7L377.7 123.8L378.1 123.4L378.6 123L379.1 123.7L379.5 123.2L379.9 123.7L380.4 123.3L380.9 123.7L381.3 122.5L381.8 123.8L382.2 123.4L382.6 123L383.1 123L383.6 123.5L384 123.7L384.4 122.3L384.9 123.3L385.4 123.8L385.8 123.1L386.2 123.3L386.7 123.2L387.1 123.7L387.6 123.6L388.1 123.8L388.5 123.2L388.9 123L389.4 123.5L389.9 122.5L390.3 123.5L390.8 123.2L391.2 123.8L391.6 123.2L392.1 123.2L392.6 123.1L393 123.3L393.4 123.1L393.9 123.1L394.4 123.2L394.8 123.6L395.2 123.4L395.7 123.6L396.1 123.3L396.6 123.2L397.1 123.4L397.5 123.3L397.9 123.1L398.4 123.3L398.9 123.4L399.3 123.1L399.8 123.3L400.2 122.1L400.6 122.5L401.1 123.1L401.6 123.4L402 123.2L402.4 123.2L402.9 123.7L403.4 123.6L403.8 122.9L404.2 123.1L404.7 123.4L405.1 123.5L405.6 123.2L406.1 123.6L406.5 123L406.9 123.2L407.4 123.1L407.9 123.3L408.3 122.4L408.8 123.7L409.2 123.5L409.6 123.2L410.1 123L410.6 123L411 123.3L411.4 123.3L411.9 123.2L412.4 123.5L412.8 123.4L413.2 123L413.7 123.2L414.1 123.4L414.6 123.6L415.1 121.9L415.5 123L415.9 123.1L416.4 123.7L416.9 123.2L417.3 122.3L417.8 123.7L418.2 123.1L418.6 123.2L419.1 123.1L419.6 123.1L420 123.4L420.4 123.3L420.9 123L421.4 123.8L421.8 123.8L422.2 123.4L422.7 122.6L423.1 123L423.6 123.2L424.1 122.1L424.5 123.7L424.9 123.7L425.4 123.1L425.9 123.6L426.3 123.3L426.8 123.7L427.2 123.7L427.6 123.2L428.1 123.6L428.6 123.3L429 123.3L429.4 123.6L429.9 123.3L430.4 123.7L430.8 122.4L431.2 122.4L431.7 123.4L432.1 123.4L432.6 121.9L433.1 123L433.5 123.6L433.9 123.7L434.4 123.2L434.9 123.2L435.3 123.1L435.8 123.6L436.2 123.4L436.6 123.6L437.1 123.4L437.6 123.8L438 123.6L438.4 123.6L438.9 123.7L439.4 123.7L439.8 123.4L440.2 123.7L440.7 122.3L441.1 123.6L441.6 123.7L442.1 123.3L442.5 123.7L442.9 123.8L443.4 123L443.9 123L444.3 123.2L444.8 121.8L445.2 123.7L445.6 123.3L446.1 123.5L446.6 123.8L447 123.6L447.4 123L447.9 123.3L448.4 123.3L448.8 123.7L449.2 123.1L449.7 123L450.1 123L450.6 123.2L451.1 123.5L451.5 123.2L451.9 123.6L452.4 123.4L452.9 122.1L453.3 123.5L453.8 123.7L454.2 123.7L454.6 123.4L455.1 123.2L455.6 123.2L456 123.3L456.4 122L456.9 123.3L457.4 123.2L457.8 123.1L458.2 123.5L458.7 123L459.1 123.6L459.6 122.8L460.1 123.8L460.5 123.8L460.9 123L461.4 123.2L461.9 123.3L462.3 123.8L462.8 123.7L463.2 122.7L463.6 123.8L464.1 123.3L464.6 123.2L465 122L465.4 123L465.9 123.3L466.4 123L466.8 123.7L467.2 123.7L467.7 123.8L468.1 123.2L468.6 123.8L469.1 123.6L469.5 123.3L469.9 123.7L470.4 122.6L470.9 123.5L471.3 123.8L471.8 123.1L472.2 123.5L472.6 121.6L473.1 123.1L473.6 123.7L474 123.7L474.4 123L474.9 123.5L475.4 123L475.8 123.2L476.2 123.8L476.7 123L477.1 123L477.6 123.3L478.1 123.2L478.5 123.4L478.9 123.3L479.4 123.2L479.9 121.9L480.3 123.4L480.8 123L481.2 123.6L481.6 123.1L482.1 123.6L482.6 123.4L483 123.5L483.4 123.1L483.9 123.4L484.4 123.8L484.8 123.2L485.2 123.5L485.7 123.2L486.1 123.8L486.6 123.8L487.1 123.5L487.5 123.1L487.9 122.9L488.4 123.4L488.9 123.5L489.3 122.9L489.8 123L490.2 123L490.6 123.5L491.1 123.7L491.6 123.8L492 123.5L492.4 123.2L492.9 123L493.4 123.2L493.8 122.5L494.2 123.5L494.7 123L495.1 123.3L495.6 123.3L496.1 123.8L496.5 123.8L496.9 123.6L497.4 123L497.9 123.6L498.3 123.2L498.8 123.8L499.2 123L499.6 121.7L500.1 123.8L500.6 122.9L501 123L501.4 123.7L501.9 123.7L502.4 121.5L502.8 123.7L503.2 123.2L503.7 123.1L504.1 122.9L504.6 123.3L505.1 123.7L505.5 123.8L505.9 123.8L506.4 123L506.9 123.1L507.3 123.3L507.8 123L508.2 123.1L508.6 123.4L509.1 123.4L509.6 123.2L510 123.6L510.4 123.7L510.9 123.7L511.4 123.5L511.8 122.8L512.2 123.2L512.7 123L513.1 123.6L513.6 123.1L514 123.7L514.5 123.1L515 123.3L515.4 123.1L515.9 123.5L516.3 123.1L516.8 122.5L517.2 123.4L517.6 123.8L518.1 123.5L518.5 123.6L519 122.9L519.5 123.7L519.9 123L520.4 123.5L520.8 123L521.2 122.9L521.7 123.3L522.1 122.9L522.6 123.2L523 123.3L523.5 121.8L524 123.6L524.4 122.9L524.9 123.7L525.3 123.1L525.8 123.7L526.2 123.4L526.6 123L527.1 123.5L527.5 123.5L528 122.7L528.5 123.7L528.9 122.4L529.4 123.1L529.8 123.1L530.2 123.7L530.7 123.3L531.1 123.2L531.6 123.5L532 121.9L532.5 123.1L533 123.2L533.4 123.5L533.9 123.7L534.3 123.1L534.8 123.1L535.2 122.1L535.6 123.7L536.1 123L536.5 123.5L537 121.8L537.5 122.1L537.9 123.1L538.4 123.4L538.8 123.8L539.2 123.3L539.7 123.7L540.1 123.6L540.6 123.6L541 123.8L541.5 123.6L542 123.4L542.4 123.1L542.9 123.1L543.3 123.3L543.8 123.5L544.2 123.8L544.6 123.6L545.1 123.5L545.5 123.7L546 122.1L546.5 123.3L546.9 122.9L547.4 122.9L547.8 123.2L548.2 123.3L548.7 123.1L549.1 122.8L549.6 123.6L550 123.1L550.5 123.4L551 122.7L551.4 122.8L551.9 123L552.3 123.4L552.8 123L553.2 122.9L553.6 122.9L554.1 121.9L554.5 122L555 121L555.5 120.5L555.9 119.4L556.4 118.2L556.4 118.4L556.7 116.7L556.8 116.1L557 114.2L557.2 112L557.3 109.3L557.6 100.7L557.7 98.5L557.7 96.5L558 81.3L558.1 73.2L558.3 72.3L558.6 82.8L558.6 84.8L558.9 99.8L559 108.2L559.5 117.4L560 120.5L560.4 119.9L560.9 121.6L561.3 122L561.8 122.6L562.2 122.7L562.6 123L563.1 122.8L563.5 123.4L564 122.5L564.5 123.1L564.9 123.4L565.4 122.8L565.8 123.6L566.2 122.1L566.7 123.3L567.1 123L567.6 122.5L568 122.9L568.5 123.2L569 123L569.4 122.4L569.9 122.9L570.3 123.7L570.8 122.4L571.2 122.2L571.6 123.3L572.1 123.6L572.5 122.3L573 123.1L573.5 123.8L573.9 123.7L574.4 123.6L574.8 123.3L575.2 122.6L575.7 123L576.1 123.5L576.6 121.3L577 123.1L577.5 122.3L578 123.7L578.4 122.3L578.9 123.5L579.3 122.6L579.8 122.8L580.2 123.1L580.6 123.4L581.1 123.8L581.5 123.1L582 123.7L582.5 123.3L582.9 123.8L583.4 123.1L583.8 123.2L584.2 122.4L584.7 123.2L585.1 123.6L585.6 123.4L586 123.1L586.5 123.3L587 123.5L587.4 123L587.9 123.3L588.3 123L588.8 121.4L589.1 120.5L589.2 120.8L589.4 120.1L589.6 119.6L589.7 120.1L590 119.4L590.1 118.9L590.3 120.9L590.5 121.6L591 122.4L591.5 122.7L591.9 123.5L592.4 122.8L592.8 123L593.2 123.3L593.7 123.7L594.1 121.7L594.6 123.4L595 122.3L595.5 123.7L596 123L596.4 123.7L596.9 123.1L597.3 123.8L597.8 123.5L598.2 123L598.6 123.7L599.1 123.1L599.5 122.9L600 123.4" stroke="#1e6be5"/><path d="M340.8 151.1L341.2 150.6L341.7 150.7L342.1 150.6L342.6 150.6L343.1 151.1L343.5 149.7L343.9 151L344.4 149.6L344.9 150.7L345.3 151L345.8 150.9L346.2 151.1L346.6 150.9L347.1 150.9L347.6 150.7L348 150.9L348.4 150.5L348.9 151.3L349.4 151.1L349.8 150.5L350.2 151.2L350.7 150.5L351.1 151L351.6 151L352.1 150.5L352.5 150.4L352.9 151L353.4 150.7L353.9 150.6L354.3 149.6L354.8 149.9L355.2 150.5L355.6 149.6L356.1 149.5L356.6 149.6L357 149.3L357.4 149.1L357.9 148.7L358.4 148L358.8 146.4L359 148.1L359.2 147.9L359.3 147.4L359.6 148L359.7 147.8L359.9 147.6L360.1 147.7L360.2 148.3L360.6 147.9L361.1 148L361.5 148.3L361.9 149.4L362.4 149.2L362.9 148.5L363.3 148.6L363.8 150.2L364.2 150.2L364.6 150.4L365.1 150.9L365.6 150.2L366 150.8L366.4 148.9L366.9 150.7L367.4 151.2L367.8 149.8L368.2 151.1L368.7 151.1L369.1 151.2L369.6 151.3L370.1 150.9L370.5 151.2L370.9 151.1L371.4 150.8L371.9 151.3L372.3 150.7L372.8 149.6L373.2 150.6L373.6 150.8L374.1 151.3L374.6 151.1L375 150.9L375.4 150.8L375.9 150.9L376.4 150.6L376.8 151.2L377.2 150.6L377.7 150.6L378.1 150.6L378.6 150.6L379.1 150.9L379.5 150.9L379.9 150.9L380.4 150.8L380.9 150.7L381.3 151L381.8 149.9L382.2 150.9L382.6 150.8L383.1 150.8L383.6 150.8L384 150.9L384.4 150.8L384.9 151L385.4 151.1L385.8 149.9L386.2 150.7L386.7 151.1L387.1 151.4L387.6 150.8L388.1 150.7L388.5 151.1L388.9 151.3L389.4 150.9L389.9 151.1L390.3 150.6L390.8 151.4L391.2 149.7L391.6 151.3L392.1 150.9L392.6 150.8L393 150.7L393.4 151L393.9 151.4L394.4 151.4L394.8 150.6L395.2 151.4L395.7 151.1L396.1 150.9L396.6 150.7L397.1 150.8L397.5 151.3L397.9 151.3L398.4 151.1L398.9 151.3L399.3 151.1L399.8 149.7L400.2 151L400.6 150.7L401.1 150.8L401.6 150.8L402 149.3L402.4 149.9L402.9 151.4L403.4 151L403.8 149.5L404.2 151.1L404.7 150.8L405.1 151.4L405.6 150.9L406.1 151L406.5 150.6L406.9 150.7L407.4 149.8L407.9 151.1L408.3 151.4L408.8 149.5L409.2 151L409.6 150.6L410.1 151L410.6 149.7L411 150.7L411.4 150.7L411.9 151.1L412.4 151.4L412.8 151.2L413.2 151.3L413.7 151.2L414.1 150.8L414.6 151.4L415.1 150.8L415.5 151.2L415.9 151.3L416.4 150.9L416.9 151.1L417.3 150.7L417.8 149.5L418.2 150.6L418.6 150.7L419.1 151.2L419.6 150.9L420 151L420.4 151L420.9 151L421.4 149.9L421.8 151.4L422.2 151L422.7 149.5L423.1 151.3L423.6 150.7L424.1 151.3L424.5 151.3L424.9 150.8L425.4 151.2L425.9 150.8L426.3 150.9L426.8 150.7L427.2 151.2L427.6 151.1L428.1 150.6L428.6 150.8L429 151.4L429.4 150.6L429.9 150.7L430.4 150.1L430.8 151L431.2 150.8L431.7 150.9L432.1 150L432.6 150L433.1 150.8L433.5 151.1L433.9 151.1L434.4 150.7L434.9 150.3L435.3 150.8L435.8 151.3L436.2 151.2L436.6 150.8L437.1 150.9L437.6 151L438 150.7L438.4 150.7L438.9 151.3L439.4 150.9L439.8 150.6L440.2 149.4L440.7 150.7L441.1 150.6L441.6 149.8L442.1 150.9L442.5 151L442.9 151.3L443.4 151.4L443.9 151.1L444.3 150.7L444.8 150.7L445.2 151.1L445.6 151.2L446.1 149.8L446.6 151L447 150.8L447.4 150.9L447.9 151.1L448.4 150.8L448.8 150.6L449.2 151L449.7 150.8L450.1 151L450.6 150.6L451.1 150.8L451.5 150.8L451.9 150.8L452.4 150.9L452.9 151.2L453.3 149.5L453.8 150L454.2 151L454.6 150.8L455.1 149.7L455.6 151.3L456 151.2L456.4 149.9L456.9 150.8L457.4 151.2L457.8 151.4L458.2 151.4L458.7 151.1L459.1 151.2L459.6 151L460.1 150.7L460.5 151.3L460.9 151.2L461.4 151L461.9 150.1L462.3 151.4L462.8 150.1L463.2 149.9L463.6 151.3L464.1 150.8L464.6 150.9L465 151.4L465.4 150.6L465.9 149.4L466.4 150.8L466.8 151.2L467.2 151.2L467.7 149.6L468.1 151.3L468.6 151.2L469.1 150.7L469.5 151.2L469.9 150.7L470.4 150.3L470.9 151L471.3 151.3L471.8 151.2L472.2 150.8L472.6 151.4L473.1 150.9L473.6 150.8L474 150.8L474.4 150.8L474.9 151.3L475.4 150.7L475.8 151.2L476.2 150.1L476.7 151.3L477.1 150.1L477.6 150.8L478.1 150.9L478.5 151L478.9 151.3L479.4 150.8L479.9 150.6L480.3 151.4L480.8 150.9L481.2 151.3L481.6 151.4L482.1 150.6L482.6 150.1L483 151L483.4 150.7L483.9 150.1L484.4 150.6L484.8 149.9L485.2 151.3L485.7 150.8L486.1 149.1L486.6 150.7L487.1 150.5L487.5 151.1L487.9 151.1L488.4 150.8L488.9 150.7L489.3 151.1L489.8 149.6L490.2 151.2L490.6 151.1L491.1 151.2L491.6 150.8L492 149.6L492.4 151.3L492.9 150.7L493.4 151.1L493.8 151L494.2 151.2L494.7 151L495.1 150.3L495.6 150.8L496.1 151L496.5 151.4L496.9 150.9L497.4 151.4L497.9 151.1L498.3 150.9L498.8 151.3L499.2 150.7L499.6 150.9L500.1 151L500.6 151.3L501 151.2L501.4 150.1L501.9 150.9L502.4 151L502.8 151.1L503.2 150.8L503.7 149.4L504.1 151.2L504.6 150.8L505.1 151.2L505.5 151.4L505.9 150.2L506.4 150.9L506.9 150.7L507.3 150.6L507.8 151.2L508.2 151.2L508.6 149.6L509.1 150.6L509.6 150.7L510 151.3L510.4 151.4L510.9 150.7L511.4 149.9L511.8 151L512.2 150.1L512.7 151.2L513.1 151.2L513.6 150.8L514 151.3L514.5 150.7L515 150.6L515.4 150.8L515.9 151.2L516.3 149.5L516.8 149.7L517.2 151.3L517.6 151L518.1 151.4L518.5 151L519 149.8L519.5 150.9L519.9 150.9L520.4 150.8L520.8 151.3L521.2 151.3L521.7 151L522.1 151.2L522.6 150.7L523 151.1L523.5 149.7L524 150.9L524.4 151.1L524.9 151L525.3 150.7L525.8 151.1L526.2 149.4L526.6 151.2L527.1 150.8L527.5 151.2L528 150L528.5 150.5L528.9 150L529.4 151.1L529.8 150.6L530.2 149.8L530.7 151.4L531.1 150.7L531.6 150.7L532 151.2L532.5 151L533 150.9L533.4 150.5L533.9 150.5L534.3 150.4L534.8 151L535.2 149.3L535.6 149.8L536.1 150.9L536.5 150.6L537 150.6L537.5 151.4L537.9 150.6L538.4 150.8L538.8 151.1L539.2 150.7L539.7 151L540.1 150L540.6 151.4L541 151L541.5 151.2L542 150.8L542.4 150.7L542.9 150.5L543.3 150.6L543.8 149.7L544.2 150.6L544.6 151.3L545.1 151.2L545.5 150.9L546 150.5L546.5 151L546.9 149.4L547.4 151L547.8 150.6L548.2 151.3L548.7 151.1L549.1 151L549.6 150.7L550 149.6L550.5 150.5L551 150.6L551.4 150.7L551.9 151L552.3 150.5L552.8 150.5L553.2 149.4L553.6 150L554.1 149.9L554.5 149.9L555 149.3L555.5 148.1L555.9 146.8L556.4 145.7L556.4 145.8L556.7 144.3L556.8 143.3L557 141.6L557.2 139.2L557.3 137.2L557.6 128.6L557.7 126.9L557.7 125.7L558 113.4L558.1 108L558.3 105.7L558.6 114.7L558.6 116.9L558.9 129.1L559 135.6L559.5 144.5L560 147.2L560.4 148.3L560.9 149.4L561.3 150.2L561.8 148.7L562.2 150.3L562.6 150L563.1 150.5L563.5 150.3L564 150.9L564.5 150.2L564.9 150.6L565.4 150.4L565.8 151.1L566.2 150L566.7 150.6L567.1 150.6L567.6 150.9L568 149.1L568.5 151.1L569 151.3L569.4 150.6L569.9 150.6L570.3 151L570.8 151.2L571.2 150.8L571.6 150.2L572.1 150.6L572.5 150.9L573 151.1L573.5 151L573.9 151.4L574.4 149.3L574.8 150.6L575.2 151.3L575.7 151.4L576.1 151.2L576.6 149.4L577 150.9L577.5 151L578 150.7L578.4 151.1L578.9 151.2L579.3 150.9L579.8 150.8L580.2 151.3L580.6 151.2L581.1 150.5L581.5 151.2L582 151.4L582.5 150.8L582.9 151.3L583.4 151.3L583.8 150.8L584.2 151L584.7 149.5L585.1 151.1L585.6 150.8L586 150.5L586.5 150.5L587 150.9L587.4 150.2L587.9 151.1L588.3 150L588.8 149.8L589.1 149.5L589.2 149.4L589.4 147.7L589.6 148.3L589.7 148.7L590 148.9L590.1 148.9L590.3 148.8L590.5 149.7L591 150.2L591.5 150.9L591.9 151L592.4 150.8L592.8 150.9L593.2 150.7L593.7 150.8L594.1 150.6L594.6 151L595 149.9L595.5 149.5L596 151L596.4 150.5L596.9 150.8L597.3 150.7L597.8 150.8L598.2 151.1L598.6 151.2L599.1 150.6L599.5 151L600 151.4" stroke="#2aaa5c"/><path d="M340.8 178.7L341.2 177.1L341.7 178.3L342.1 178.4L342.6 178.1L343.1 177.6L343.5 178.7L343.9 178.2L344.4 178.2L344.9 178.8L345.3 178.1L345.8 178.3L346.2 178.5L346.6 177.2L347.1 178.1L347.6 178.2L348 178.5L348.4 178.7L348.9 178.4L349.4 178.4L349.8 178.6L350.2 177.9L350.7 178.4L351.1 177.8L351.6 177.8L352.1 178.4L352.5 177.7L352.9 178.5L353.4 177.8L353.9 178.1L354.3 177.6L354.8 178L355.2 177.3L355.6 177.3L356.1 176.7L356.6 176.3L357 176.3L357.4 175.9L357.9 175.5L358.4 175.3L358.8 173.4L359 172.8L359.2 174.3L359.3 174L359.6 174.7L359.7 174.6L359.9 174.1L360.1 174.7L360.2 174.6L360.6 174.7L361.1 175.1L361.5 175.7L361.9 176.1L362.4 176.4L362.9 177L363.3 177.2L363.8 177.1L364.2 176.4L364.6 176.5L365.1 177.9L365.6 178.1L366 178.2L366.4 177.7L366.9 178.5L367.4 177.9L367.8 178.2L368.2 178.2L368.7 178.7L369.1 178.7L369.6 178L370.1 178.2L370.5 178.3L370.9 178.1L371.4 178.2L371.9 178.3L372.3 178.8L372.8 177.9L373.2 178.3L373.6 178.6L374.1 178.2L374.6 178.2L375 178.6L375.4 178.3L375.9 178.2L376.4 177.1L376.8 178.6L377.2 178.5L377.7 178.6L378.1 178.3L378.6 178.1L379.1 178.7L379.5 178.3L379.9 177.1L380.4 178.4L380.9 178.4L381.3 178.2L381.8 178.2L382.2 178.6L382.6 178L383.1 178.4L383.6 178.5L384 177.2L384.4 178.5L384.9 178.7L385.4 177.2L385.8 178.3L386.2 178.7L386.7 178.7L387.1 177.5L387.6 178.2L388.1 178.8L388.5 178.2L388.9 178.5L389.4 178.5L389.9 178L390.3 178.6L390.8 178L391.2 178L391.6 178.6L392.1 177.6L392.6 178.3L393 178.8L393.4 178.5L393.9 178.4L394.4 178.4L394.8 178.7L395.2 178.3L395.7 178.8L396.1 178.3L396.6 178.1L397.1 178.7L397.5 178.4L397.9 178.5L398.4 178L398.9 178.1L399.3 178.6L399.8 178.1L400.2 178.2L400.6 178.7L401.1 178.3L401.6 178.1L402 177.8L402.4 178.1L402.9 178.2L403.4 178L403.8 178.4L404.2 178.6L404.7 178.2L405.1 176.9L405.6 178.6L406.1 177.1L406.5 177.9L406.9 178.6L407.4 178.7L407.9 178.8L408.3 178.2L408.8 178.5L409.2 178.7L409.6 178.7L410.1 178.4L410.6 177.1L411 178.3L411.4 178.7L411.9 178.6L412.4 178.5L412.8 178L413.2 178.1L413.7 177.4L414.1 178.1L414.6 178.4L415.1 178L415.5 177.5L415.9 178.1L416.4 178.1L416.9 178.1L417.3 178.7L417.8 178L418.2 178L418.6 178.6L419.1 178.7L419.6 178.6L420 178.8L420.4 178.3L420.9 178.7L421.4 177.4L421.8 178.1L422.2 178.2L422.7 178.8L423.1 177.4L423.6 178.2L424.1 178.3L424.5 176.7L424.9 178L425.4 178.5L425.9 178.7L426.3 178.8L426.8 178.8L427.2 178.3L427.6 178.6L428.1 178L428.6 178.6L429 176.9L429.4 178L429.9 178.3L430.4 178.6L430.8 178.1L431.2 178.5L431.7 178.7L432.1 178L432.6 178.6L433.1 178.7L433.5 178.5L433.9 178.1L434.4 177.8L434.9 178.5L435.3 178.8L435.8 178.4L436.2 178.8L436.6 178.7L437.1 178.5L437.6 178.7L438 177.6L438.4 177.3L438.9 178.3L439.4 178.7L439.8 178.6L440.2 178.4L440.7 178.8L441.1 178L441.6 176.7L442.1 178.1L442.5 178.6L442.9 178.8L443.4 178.5L443.9 178.7L444.3 178.7L444.8 177.6L445.2 178.6L445.6 178.1L446.1 178.1L446.6 178L447 178.1L447.4 178L447.9 178.5L448.4 178.5L448.8 178.5L449.2 178.4L449.7 178.5L450.1 178.2L450.6 178L451.1 178.4L451.5 176.5L451.9 178.4L452.4 177.7L452.9 178.7L453.3 178.1L453.8 178L454.2 178.4L454.6 178.4L455.1 178.8L455.6 178L456 178.6L456.4 178.1L456.9 178.8L457.4 178.4L457.8 178.1L458.2 178.3L458.7 178.7L459.1 178.1L459.6 178.8L460.1 178.3L460.5 177.6L460.9 178.4L461.4 177.5L461.9 178.2L462.3 178.6L462.8 178.1L463.2 178.6L463.6 178.6L464.1 178.2L464.6 178.7L465 178.8L465.4 178.8L465.9 178.8L466.4 178.7L466.8 178.4L467.2 178.7L467.7 178.8L468.1 178.4L468.6 178.1L469.1 178L469.5 178.5L469.9 178.7L470.4 177.6L470.9 178L471.3 178.7L471.8 178.5L472.2 178.6L472.6 178.7L473.1 178.8L473.6 178.8L474 178.2L474.4 178.4L474.9 178L475.4 178.6L475.8 178.3L476.2 178.3L476.7 178.3L477.1 178.1L477.6 178.8L478.1 178.7L478.5 177.1L478.9 177.9L479.4 178.2L479.9 178.6L480.3 178.3L480.8 178.6L481.2 178.3L481.6 178.2L482.1 178.6L482.6 178L483 178.5L483.4 178.3L483.9 178.3L484.4 177.2L484.8 178L485.2 178.4L485.7 178.5L486.1 177.4L486.6 178.7L487.1 178.6L487.5 178.2L487.9 178.5L488.4 178.1L488.9 178.6L489.3 178.4L489.8 178L490.2 178.2L490.6 178.2L491.1 178.2L491.6 178.6L492 176.9L492.4 178.2L492.9 178.4L493.4 178L493.8 178.6L494.2 178.7L494.7 178.4L495.1 177.9L495.6 177L496.1 178.1L496.5 178.2L496.9 178.4L497.4 178.1L497.9 176.9L498.3 178L498.8 178.2L499.2 178.4L499.6 178L500.1 178.5L500.6 178.3L501 178.7L501.4 177.4L501.9 178.7L502.4 178.3L502.8 178L503.2 177.5L503.7 178.7L504.1 178.4L504.6 178.4L505.1 178.3L505.5 178.6L505.9 178.2L506.4 178.3L506.9 178.3L507.3 178.1L507.8 178.2L508.2 178.3L508.6 178.5L509.1 178.4L509.6 178.6L510 178.5L510.4 178.1L510.9 178.5L511.4 178.2L511.8 178.4L512.2 178.8L512.7 178.6L513.1 178.6L513.6 178.8L514 178.5L514.5 176.9L515 178.7L515.4 178.4L515.9 178L516.3 178.2L516.8 178.3L517.2 178.8L517.6 176.6L518.1 178.4L518.5 177.4L519 177.8L519.5 178.4L519.9 178.1L520.4 178.5L520.8 178L521.2 178L521.7 176.7L522.1 178.2L522.6 178.7L523 178L523.5 178.7L524 178.5L524.4 178.7L524.9 178.3L525.3 178.4L525.8 178.5L526.2 177.5L526.6 178.6L527.1 178.4L527.5 178.4L528 178L528.5 178.1L528.9 178.4L529.4 178L529.8 178.6L530.2 178.1L530.7 178.3L531.1 178.6L531.6 178.8L532 178.4L532.5 178.1L533 178.2L533.4 178.1L533.9 178.5L534.3 178.3L534.8 178.6L535.2 178.5L535.6 178L536.1 178L536.5 178.4L537 178.7L537.5 178.7L537.9 176.9L538.4 178.5L538.8 178.4L539.2 178.8L539.7 178L540.1 178.6L540.6 178.8L541 178.1L541.5 178.4L542 178.6L542.4 178.8L542.9 178.2L543.3 178.1L543.8 178.2L544.2 178.3L544.6 178.6L545.1 178.7L545.5 177.9L546 178.6L546.5 178.7L546.9 178.5L547.4 177.2L547.8 178.5L548.2 178L548.7 178.6L549.1 177.9L549.6 178L550 178.2L550.5 178.6L551 178.2L551.4 178L551.9 178.3L552.3 178.2L552.8 178.3L553.2 178.2L553.6 178L554.1 177.3L554.5 175.8L555 176.9L555.5 175.7L555.9 174.2L556.4 174.5L556.4 174.7L556.7 173.5L556.8 173.6L557 172.6L557.2 170.8L557.3 170.2L557.6 165.5L557.7 164.8L557.7 163.6L558 156.9L558.1 154.5L558.3 153.7L558.6 158.1L558.6 159L558.9 165.4L559 169.5L559.5 174.4L560 176.5L560.4 176.7L560.9 177.6L561.3 177.9L561.8 177.7L562.2 177.6L562.6 178.2L563.1 178.2L563.5 178.6L564 178.6L564.5 177.9L564.9 178.3L565.4 178.4L565.8 178.4L566.2 178.7L566.7 178.2L567.1 178.7L567.6 178L568 178.3L568.5 178.1L569 177.9L569.4 178.2L569.9 178.1L570.3 176.6L570.8 178.2L571.2 178.7L571.6 178.4L572.1 178.3L572.5 178.6L573 178.7L573.5 178L573.9 178.5L574.4 178.2L574.8 178.1L575.2 178.3L575.7 178.6L576.1 178.6L576.6 178.3L577 178.1L577.5 178.5L578 178.4L578.4 178.2L578.9 178.6L579.3 178.1L579.8 178.1L580.2 178.1L580.6 177.1L581.1 178.6L581.5 178.3L582 178L582.5 178.7L582.9 178.7L583.4 178.7L583.8 178.3L584.2 178.2L584.7 177.9L585.1 178.4L585.6 178.1L586 178L586.5 178.6L587 177.9L587.4 176.7L587.9 178.1L588.3 177.5L588.8 177.4L589.1 176.3L589.2 176L589.4 175.5L589.6 174.7L589.7 175.3L590 175.7L590.1 175.9L590.3 176.3L590.5 176.4L591 178L591.5 178.3L591.9 178.1L592.4 178.2L592.8 178.6L593.2 178.3L593.7 177.2L594.1 178.4L594.6 176.8L595 178.1L595.5 178.4L596 178.4L596.4 178.1L596.9 178L597.3 178.5L597.8 178.5L598.2 177L598.6 178.2L599.1 178.3L599.5 178.2L600 178.4" stroke="#a95ce6"/><path d="M340.8 203.4L341.2 202.8L341.7 203.2L342.1 201.7L342.6 202.8L343.1 202.5L343.5 203.2L343.9 202.6L344.4 202.9L344.9 202.8L345.3 202.6L345.8 202.5L346.2 203.3L346.6 203.3L347.1 203.3L347.6 202.7L348 203.2L348.4 202.7L348.9 202.9L349.4 202.7L349.8 202.4L350.2 203L350.7 203L351.1 202.7L351.6 200.7L352.1 202.8L352.5 202.1L352.9 202.1L353.4 202.3L353.9 201.8L354.3 201L354.8 200.7L355.2 200.4L355.6 199.5L356.1 198.3L356.6 197.2L357 197L357.4 196.7L357.9 195.6L358.4 195.5L358.8 194.9L359 194.2L359.2 194.1L359.3 193.9L359.6 194.1L359.7 194.6L359.9 193.7L360.1 193.5L360.2 194.4L360.6 194.6L361.1 195.9L361.5 196.3L361.9 197.2L362.4 198.1L362.9 198.6L363.3 199.3L363.8 199.7L364.2 200.4L364.6 200.9L365.1 201.4L365.6 201.8L366 202L366.4 202.5L366.9 202.4L367.4 202.2L367.8 202.2L368.2 202.2L368.7 201.4L369.1 202.7L369.6 202.7L370.1 203L370.5 202.9L370.9 203.1L371.4 201L371.9 202.5L372.3 202.3L372.8 202.8L373.2 203.2L373.6 201.9L374.1 202.5L374.6 203.1L375 202.6L375.4 203.3L375.9 202.2L376.4 202.7L376.8 202.6L377.2 202.4L377.7 202.9L378.1 203.2L378.6 202.9L379.1 203.1L379.5 203.4L379.9 203.1L380.4 203L380.9 203.2L381.3 203.5L381.8 203L382.2 203.3L382.6 202.9L383.1 203L383.6 203L384 203L384.4 202.7L384.9 203.2L385.4 201.7L385.8 203.2L386.2 203.1L386.7 201.5L387.1 203.4L387.6 203L388.1 202.7L388.5 203.3L388.9 202.7L389.4 203.2L389.9 203L390.3 202.2L390.8 203.4L391.2 202.7L391.6 203L392.1 202.6L392.6 203.1L393 202.6L393.4 203.5L393.9 203.4L394.4 202.3L394.8 203.1L395.2 201.4L395.7 203.2L396.1 203L396.6 202.8L397.1 202.8L397.5 203.3L397.9 203L398.4 202.9L398.9 203.5L399.3 203.5L399.8 203.1L400.2 203.4L400.6 203.5L401.1 202.9L401.6 203.3L402 202.9L402.4 202.7L402.9 203.5L403.4 203.1L403.8 203.2L404.2 203.1L404.7 202.8L405.1 203L405.6 202.8L406.1 203.4L406.5 203.5L406.9 202.8L407.4 203.4L407.9 202.8L408.3 202.3L408.8 203.3L409.2 203L409.6 203.1L410.1 202.7L410.6 203.3L411 203.3L411.4 203.3L411.9 202L412.4 203L412.8 202.1L413.2 202.7L413.7 202.9L414.1 202.9L414.6 203.2L415.1 203.3L415.5 203.4L415.9 203.3L416.4 203.5L416.9 203.1L417.3 203.1L417.8 202.9L418.2 203.4L418.6 203.3L419.1 203L419.6 203.2L420 203.3L420.4 201.5L420.9 203L421.4 202.7L421.8 203.4L422.2 203.3L422.7 203.2L423.1 202.9L423.6 203.2L424.1 203.1L424.5 203.5L424.9 202.9L425.4 202.8L425.9 203.4L426.3 203.4L426.8 203.1L427.2 203.4L427.6 203L428.1 202.8L428.6 203.3L429 202.7L429.4 203L429.9 203L430.4 203.5L430.8 203.1L431.2 202.8L431.7 203.1L432.1 202.7L432.6 202.8L433.1 203L433.5 203.3L433.9 202.2L434.4 203.2L434.9 202.8L435.3 203.5L435.8 203.1L436.2 202.9L436.6 203.3L437.1 203L437.6 202.7L438 202.9L438.4 203.1L438.9 203.1L439.4 203.2L439.8 203.5L440.2 202.7L440.7 203.3L441.1 203L441.6 202.9L442.1 203.4L442.5 203.2L442.9 202.8L443.4 203.1L443.9 203.5L444.3 201.5L444.8 202.7L445.2 202.8L445.6 201.2L446.1 203.1L446.6 203.5L447 202.8L447.4 203L447.9 202.9L448.4 202.9L448.8 202.8L449.2 203L449.7 203.4L450.1 202.8L450.6 203.5L451.1 202.9L451.5 202.2L451.9 203.3L452.4 203.5L452.9 203.4L453.3 203L453.8 202.6L454.2 202.7L454.6 201.8L455.1 203.4L455.6 202.9L456 202.2L456.4 203.5L456.9 202.9L457.4 203.4L457.8 203L458.2 201.7L458.7 203.2L459.1 202.7L459.6 202.1L460.1 202.7L460.5 203.2L460.9 202.9L461.4 202.9L461.9 202.7L462.3 202.6L462.8 202.8L463.2 202.8L463.6 202.9L464.1 203.3L464.6 203.5L465 203.1L465.4 202.9L465.9 202.2L466.4 202.9L466.8 202.9L467.2 203.1L467.7 202.3L468.1 202.5L468.6 201.7L469.1 202.8L469.5 203L469.9 202.1L470.4 203.3L470.9 203.3L471.3 202.8L471.8 201.7L472.2 202.7L472.6 202.9L473.1 203.5L473.6 203.3L474 203.2L474.4 202.7L474.9 202.8L475.4 203L475.8 202.9L476.2 203.5L476.7 203L477.1 203.3L477.6 203.3L478.1 201.9L478.5 202.7L478.9 203.5L479.4 202.9L479.9 203.2L480.3 203.3L480.8 202.8L481.2 203.3L481.6 203L482.1 203L482.6 203.1L483 202.7L483.4 203.1L483.9 202.3L484.4 202.8L484.8 202.8L485.2 203.5L485.7 203L486.1 201.8L486.6 202.9L487.1 202.8L487.5 203.1L487.9 202.8L488.4 203.3L488.9 203.5L489.3 203.5L489.8 203.3L490.2 203.4L490.6 203.1L491.1 202.9L491.6 203.4L492 201.7L492.4 203L492.9 203L493.4 203.4L493.8 203.5L494.2 202.8L494.7 202.6L495.1 202.8L495.6 202.9L496.1 202.7L496.5 203L496.9 202.7L497.4 203L497.9 202.7L498.3 202L498.8 203.4L499.2 202.8L499.6 202.7L500.1 202.6L500.6 202.8L501 202.7L501.4 202.8L501.9 203.4L502.4 203.2L502.8 203.4L503.2 202.7L503.7 202.8L504.1 202.8L504.6 203.2L505.1 201.9L505.5 203.4L505.9 203.2L506.4 203.2L506.9 203.5L507.3 203.3L507.8 202.8L508.2 203.1L508.6 203.3L509.1 202.7L509.6 202.7L510 202.8L510.4 203.2L510.9 201.6L511.4 203.2L511.8 203L512.2 203.2L512.7 202.2L513.1 202.7L513.6 202.1L514 201.7L514.5 201.5L514.9 200.6L515 201.1L515.2 201L515.4 200.3L515.5 200.3L515.8 200.2L515.9 199.8L516.1 201.3L516.3 201L516.8 201.9L517.2 202.2L517.6 202.4L518.1 202.7L518.5 202.5L519 203.1L519.5 203.3L519.9 202.9L520.4 203.4L520.8 203.3L521.2 203.4L521.7 203.2L522.1 203.4L522.6 203.4L523 203.1L523.5 203.1L524 202.6L524.4 202.8L524.9 202.8L525.3 202.8L525.8 203.5L526.2 203.1L526.6 202L527.1 202.9L527.5 202.9L528 202.7L528.5 203.2L528.9 202L529.4 203L529.8 203.4L530.2 201.7L530.7 202.7L531.1 202.7L531.6 203.3L532 203.5L532.5 203.3L533 203.2L533.4 202.8L533.9 203.5L534.3 201.9L534.8 203.5L535.2 202.9L535.6 202.7L536.1 203.3L536.5 202.7L537 203.4L537.5 202.8L537.9 201.6L538.4 203.3L538.8 203.4L539.2 202.4L539.7 202.5L540.1 202.7L540.6 202.7L541 203L541.5 203.4L542 202.8L542.4 203.3L542.9 203.5L543.3 203.2L543.8 203.3L544.2 203L544.6 203.3L545.1 202.8L545.5 203.3L546 203.2L546.5 202.8L546.9 202.6L547.4 203.1L547.8 203.3L548.2 203L548.7 202.8L549.1 202.2L549.6 203.1L550 203.1L550.5 203.1L551 203.3L551.4 203L551.9 202L552.3 202.8L552.8 202.9L553.2 202.6L553.6 203L554.1 202.7L554.5 202.1L555 201.5L555.5 202.4L555.9 201.5L556.4 201.4L556.8 199.5L557.2 195.3L557.7 183.1L557.7 182.9L558 172.7L558.1 167.2L558.3 164.9L558.6 173L558.6 174.3L558.9 184.8L559 190.8L559.5 198.5L560 200.5L560.4 201.8L560.9 202L561.3 202.6L561.8 202.1L562.2 200.8L562.6 202.7L563.1 202.7L563.5 202.6L564 202.8L564.5 203.1L564.9 203.4L565.4 202.9L565.8 202.9L566.2 203L566.7 202.8L567.1 202.9L567.6 201.4L568 203.3L568.5 203.1L569 203L569.4 203.3L569.9 203.2L570.3 202.6L570.8 202.6L571.2 203L571.6 203.2L572.1 203.4L572.5 202.8L573 201.3L573.5 203.1L573.9 202.7L574.4 202.8L574.8 202.8L575.2 202.7L575.7 202.9L576.1 203.3L576.6 202.7L577 203L577.5 202.9L578 202.7L578.4 203.2L578.9 203.2L579.3 202.8L579.8 203.1L580.2 202.8L580.6 203.5L581.1 203.3L581.5 203.1L582 202.8L582.5 203L582.9 203L583.4 202.7L583.8 203L584.2 202.9L584.7 203.4L585.1 203.2L585.6 203.2L586 203.2L586.5 202.8L587 203.2L587.4 203.1L587.9 202.5L588.3 201.8L588.8 200.2L589.1 198.3L589.2 196.7L589.4 195.4L589.6 196L589.7 196L590 195.8L590.1 197.1L590.3 198.2L590.5 200.1L591 201.7L591.5 202.6L591.9 203L592.4 202.5L592.8 202.8L593.2 202.8L593.7 201.9L594.1 202L594.6 202.9L595 202.6L595.5 203.4L596 203.5L596.4 203.5L596.9 202.2L597.3 203.3L597.8 202.9L598.2 203.2L598.6 202.8L599.1 203.1L599.5 202.8L600 203.5" stroke="#d9a01a"/><path d="M340.8 232.6L341.2 232.6L341.7 232.8L342.1 233L342.6 232.6L343.1 231.8L343.5 232.3L343.9 232.3L344.4 233.1L344.9 232.5L345.3 232.6L345.8 232.3L346.2 232.3L346.6 231.2L347.1 232.3L347.6 232.7L348 232.7L348.4 232.4L348.9 231.9L349.4 232.2L349.8 231.8L350.2 232.4L350.7 232.3L351.1 231.6L351.6 231.9L352.1 231.4L352.5 230.9L352.9 230.9L353.4 230.3L353.9 228.4L354.3 228.9L354.8 227.9L355.2 226.3L355.6 225.1L356.1 223.8L356.6 223L357 221.1L357.4 219.9L357.9 218.2L358.4 217.2L358.8 216.4L359 215.7L359.2 216.1L359.3 216L359.6 215.5L359.7 215.8L359.9 215.7L360.1 216.3L360.2 215.9L360.6 216.7L361.1 217.5L361.5 218.8L361.9 219.9L362.4 221.6L362.9 223.6L363.3 224.3L363.8 226.1L364.2 226.9L364.6 227.9L365.1 228.8L365.6 229.7L366 230.1L366.4 231.1L366.9 230.8L367.4 231.1L367.8 231.6L368.2 232.3L368.7 231.7L369.1 231.8L369.6 232.3L370.1 232L370.5 232.8L370.9 232.5L371.4 232.3L371.9 232.1L372.3 233L372.8 230.8L373.2 232.4L373.6 232.8L374.1 232.5L374.6 233.1L375 232.6L375.4 233.1L375.9 233.2L376.4 233.2L376.8 233L377.2 232.5L377.7 233.2L378.1 232.7L378.6 233.3L379.1 232.7L379.5 231.8L379.9 232.7L380.4 233.2L380.9 233.2L381.3 232.8L381.8 232.5L382.2 233.3L382.6 232.3L383.1 233.2L383.6 232.6L384 232.6L384.4 233.1L384.9 232.6L385.4 233.2L385.8 232.6L386.2 232.4L386.7 233.1L387.1 232.9L387.6 232.6L388.1 233L388.5 232.5L388.9 232.6L389.4 232.7L389.9 233.4L390.3 233.2L390.8 232.7L391.2 232L391.6 232.9L392.1 233.2L392.6 232.7L393 233L393.4 233L393.9 232.6L394.4 232.8L394.8 233.1L395.2 233L395.7 233.2L396.1 233.5L396.6 232.7L397.1 233.1L397.5 232.7L397.9 232.7L398.4 232.7L398.9 233L399.3 233.4L399.8 233.1L400.2 232.9L400.6 232.6L401.1 233.2L401.6 233.2L402 233L402.4 232.8L402.9 233.1L403.4 233.1L403.8 232.9L404.2 233L404.7 233.4L405.1 233L405.6 233.5L406.1 232L406.5 232.3L406.9 233.1L407.4 232L407.9 231.7L408.3 232.8L408.8 232.2L409.2 233.2L409.6 233.2L410.1 233.2L410.6 233.3L411 233.1L411.4 232.7L411.9 232.9L412.4 233.3L412.8 232.4L413.2 233.5L413.7 233L414.1 233.5L414.6 233.4L415.1 233L415.5 233.1L415.9 233.1L416.4 232.9L416.9 232.6L417.3 233.2L417.8 233.4L418.2 233.5L418.6 233.1L419.1 233.2L419.6 233.4L420 233.4L420.4 233.2L420.9 233.2L421.4 233.5L421.8 233L422.2 232.7L422.7 232.1L423.1 232.7L423.6 232.7L424.1 233.1L424.5 233.5L424.9 233.2L425.4 232.8L425.9 232.7L426.3 233.1L426.8 233.3L427.2 232.8L427.6 233.2L428.1 232.8L428.6 233L429 233.3L429.4 232.9L429.9 231.2L430.4 233.5L430.8 232.9L431.2 232.8L431.7 233.4L432.1 233L432.6 233.5L433.1 233.2L433.5 233.5L433.9 233L434.4 231.8L434.9 232.7L435.3 233.4L435.8 232.9L436.2 233.1L436.6 233.4L437.1 233.1L437.6 233L438 233L438.4 232.8L438.9 233.1L439.4 233.1L439.8 232.7L440.2 231.9L440.7 233.2L441.1 233.3L441.6 231.6L442.1 233.2L442.5 232.8L442.9 233.3L443.4 233.1L443.9 233.2L444.3 232.6L444.8 233.4L445.2 233.5L445.6 233.1L446.1 233.3L446.6 231.7L447 233.3L447.4 232.8L447.9 233.2L448.4 233.4L448.8 233.2L449.2 233.1L449.7 232.9L450.1 233.2L450.6 233.3L451.1 233.1L451.5 233.2L451.9 231.8L452.4 232.8L452.9 232.8L453.3 232.9L453.8 233.2L454.2 233.5L454.6 232.7L455.1 232.7L455.6 233.1L456 233.2L456.4 233.4L456.9 232.9L457.4 232.7L457.8 232.7L458.2 233.1L458.7 232L459.1 232.7L459.6 233.3L460.1 233.4L460.5 233.1L460.9 231.6L461.4 233.1L461.9 232.2L462.3 233.2L462.8 233.1L463.2 233.4L463.6 233.5L464.1 233.5L464.6 231.7L465 232.5L465.4 232.7L465.9 233.5L466.4 232.9L466.8 232.6L467.2 231.5L467.7 233.2L468.1 233.2L468.6 232.7L469.1 233.4L469.5 233.2L469.9 232.1L470.4 232.1L470.9 233.3L471.3 233.3L471.8 232.8L472.2 233L472.6 232.8L473.1 233.1L473.6 232.9L474 233.3L474.4 233.2L474.9 233.1L475.4 233.2L475.8 233.1L476.2 233.1L476.7 232.7L477.1 232L477.6 232.7L478.1 233.4L478.5 232.7L478.9 232.2L479.4 233.1L479.9 231.9L480.3 233.2L480.8 233.1L481.2 233.4L481.6 233.1L482.1 233L482.6 233L483 233.3L483.4 233.2L483.9 232.9L484.4 233L484.8 233L485.2 233.2L485.7 232.8L486.1 233.1L486.6 233.2L487.1 232.6L487.5 233.1L487.9 233.4L488.4 233.2L488.9 233.3L489.3 233.4L489.8 233L490.2 233.1L490.6 231.5L491.1 232.8L491.6 233.5L492 232.8L492.4 232.8L492.9 232.7L493.4 233.2L493.8 232.6L494.2 231.9L494.7 233L495.1 232.9L495.6 232.5L496.1 232.7L496.5 232.7L496.9 232.7L497.4 233L497.9 232.9L498.3 232.5L498.8 232.3L499.2 232.3L499.6 231.9L500.1 232.2L500.6 232.1L501 231.9L501.4 231.8L501.9 230.8L502.4 230.6L502.8 230.4L503.2 230.2L503.6 229.7L503.7 230.5L503.9 229.8L504.1 230.3L504.2 230L504.5 230.1L504.6 230L504.8 230L505.1 229.9L505.5 229.2L505.9 230.9L506.4 230.8L506.9 231.7L507.3 231.2L507.8 230.4L508.2 231.8L508.6 232.6L509.1 232.2L509.6 231.5L510 232.4L510.4 231.3L510.9 232.7L511.4 233.2L511.8 232.9L512.2 232.8L512.7 233L513.1 232.9L513.6 233.4L514 233.3L514.5 232.6L515 233L515.4 233.2L515.9 233.3L516.3 232.6L516.8 232.9L517.2 233.4L517.6 233.3L518.1 233.1L518.5 233.4L519 233.1L519.5 232.7L519.9 233.1L520.4 232.7L520.8 233.4L521.2 233.4L521.7 232.8L522.1 233L522.6 232.7L523 233.5L523.5 233.5L524 232L524.4 233.1L524.9 232.7L525.3 232.7L525.8 232.8L526.2 233.2L526.6 233L527.1 232.8L527.5 232.7L528 233.5L528.5 233L528.9 232.7L529.4 232.3L529.8 232.7L530.2 232.6L530.7 232.7L531.1 232.8L531.6 233.3L532 233.4L532.5 233.3L533 232.8L533.4 232.2L533.9 233.1L534.3 233L534.8 232.1L535.2 232.1L535.6 233.4L536.1 233.4L536.5 232.2L537 233.1L537.5 233.5L537.9 233.5L538.4 233.3L538.8 233.5L539.2 233L539.7 233.4L540.1 233.5L540.6 233.3L541 232.8L541.5 232.6L542 232.7L542.4 233.3L542.9 233.2L543.3 233.4L543.8 232.8L544.2 232.8L544.6 233.3L545.1 232.9L545.5 232.9L546 233.1L546.5 233.3L546.9 232.4L547.4 233.2L547.8 233.1L548.2 232.9L548.7 233L549.1 232.9L549.6 232.8L550 231.9L550.5 233.3L551 233.3L551.4 232.3L551.9 232.6L552.3 232.7L552.8 231.8L553.2 232.6L553.6 232.9L554.1 232.4L554.5 230.7L555 232.8L555.5 232.6L555.9 231.8L556.4 231.2L556.8 230.1L557.2 225.1L557.7 214.9L557.7 214L558 202.7L558.1 197.4L558.3 196.9L558.6 203.1L558.6 205L558.9 213.7L559 220.5L559.5 228L560 230.2L560.4 231.5L560.9 232.2L561.3 232L561.8 232.5L562.2 232.7L562.6 232.6L563.1 232.8L563.5 232.5L564 233.2L564.5 233.2L564.9 233L565.4 232.8L565.8 232.7L566.2 232.3L566.7 232.7L567.1 232.5L567.6 233.4L568 233.3L568.5 233.3L569 232.7L569.4 231.7L569.9 232.8L570.3 233.1L570.8 231.6L571.2 232L571.6 232.8L572.1 233.2L572.5 232.7L573 233.5L573.5 232.8L573.9 231.6L574.4 232.7L574.8 233.2L575.2 232.7L575.7 232.1L576.1 232.6L576.6 232.7L577 232.6L577.5 232.9L578 232.1L578.4 232.7L578.9 232.7L579.3 233.5L579.8 233L580.2 233.5L580.6 232.7L581.1 233.2L581.5 232.9L582 232.6L582.5 233.1L582.9 233.3L583.4 232.9L583.8 231.3L584.2 232.9L584.7 231.1L585.1 232.6L585.6 233.3L586 232.9L586.5 232.9L587 232.4L587.4 232.4L587.9 232.5L588.3 230.7L588.8 226.9L589.1 223.8L589.2 222.3L589.4 219.6L589.6 218.2L589.7 218.1L590 219.8L590.1 220.6L590.3 223.2L590.5 226.5L591 230.1L591.5 231.8L591.9 232.1L592.4 232.9L592.8 233.1L593.2 233L593.7 233.2L594.1 232.6L594.6 232.4L595 233.1L595.5 233L596 232.9L596.4 232.6L596.9 233.5L597.3 232.9L597.8 233.5L598.2 233L598.6 233.4L599.1 233.2L599.5 232.9L600 232.9" stroke="#17cfd0"/></g><line x1="359.9" y1="44.6" x2="359.9" y2="254.4" stroke="#ff3cb4" stroke-width="1.5" stroke-dasharray="4.6 2.5 1.6 2.4 1.6 2.5" stroke-dashoffset="8"/><line x1="557.7" y1="44.6" x2="557.7" y2="254.4" stroke="#ff3cb4" stroke-width="1.5" stroke-dasharray="4.6 2.5 1.6 2.4 1.6 2.5" stroke-dashoffset="8"/><line x1="589.5" y1="44.6" x2="589.5" y2="254.4" stroke="#ff3cb4" stroke-width="1.5" stroke-dasharray="4.6 2.5 1.6 2.4 1.6 2.5" stroke-dashoffset="8"/><path d="M55.3 253.5V256.2M90.8 253.5V256.2M126.4 253.5V256.2M161.9 253.5V256.2M197.4 253.5V256.2M232.9 253.5V256.2M268.5 253.5V256.2M379.7 254.3V257M442.6 254.3V257M505.4 254.3V257M568.3 254.3V257" stroke="#000" stroke-width="1.6"/><g text-anchor="middle"><text x="55.3" y="268.8" font-size="12.6">10</text><text x="90.8" y="268.8" font-size="12.6">20</text><text x="126.4" y="268.8" font-size="12.6">30</text><text x="161.9" y="268.8" font-size="12.6">40</text><text x="197.4" y="268.8" font-size="12.6">50</text><text x="232.9" y="268.8" font-size="12.6">60</text><text x="268.5" y="268.8" font-size="12.6">70</text><text x="379.7" y="269.8" font-size="11.5">10</text><text x="442.6" y="269.8" font-size="11.5">15</text><text x="505.4" y="269.8" font-size="11.5">20</text><text x="568.3" y="269.8" font-size="11.5">25</text></g><g text-anchor="middle" font-size="13"><text x="277.4" y="66.3">190</text><text x="275.4" y="92.6">cp15</text><text x="276.6" y="116.9">cp12</text><text x="276.6" y="138.4">cp8</text><text x="277" y="161.1">cp4</text><text x="278.6" y="184.6">cp2</text><text x="279.4" y="207.3">cp1</text><text x="278.3" y="235">Pal</text></g><g text-anchor="middle" font-size="11.6"><text x="510.7" y="86.3">cp15</text><text x="510.1" y="116.1">cp12</text><text x="509.4" y="144.6">cp8</text><text x="508.4" y="170.4">cp4</text><text x="508.9" y="196.7">cp2</text><text x="510.4" y="223.7">cp1</text></g><text transform="translate(178.2 283.7) scale(1.08 1)" text-anchor="middle" font-size="14.8">2&#952; (degree)</text><text transform="translate(470.6 287.2) scale(1.075 1)" text-anchor="middle" font-size="14.8">2&#952; (degree)</text><text transform="translate(30.4 142.6) rotate(-90)" text-anchor="middle" font-size="15.8">Intensity (a.u.)</text><text transform="translate(324.2 146) rotate(-90)" text-anchor="middle" font-size="16.3">Intensity (a.u.)</text><text x="1.5" y="47.7" font-size="24">(a)</text><text x="304.6" y="47.7" font-size="24">(b)</text></svg></body></html>
